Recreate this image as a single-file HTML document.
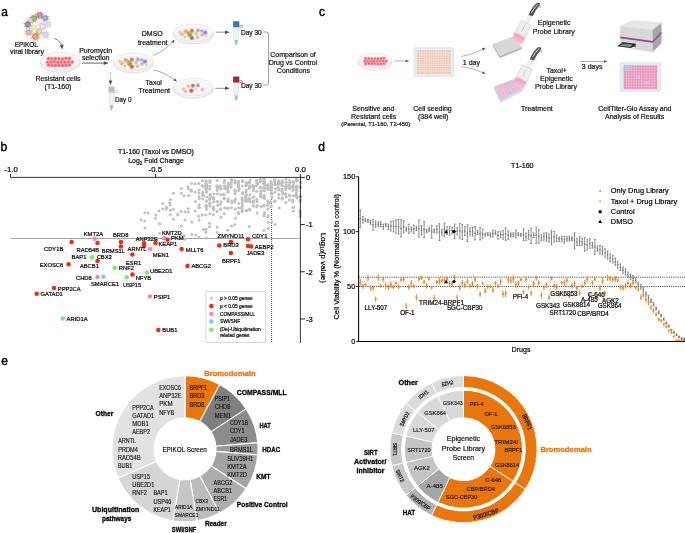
<!DOCTYPE html>
<html><head><meta charset="utf-8"><title>Figure</title>
<style>html,body{margin:0;padding:0;background:#fff;}svg{display:block;}text{font-family:"Liberation Sans",sans-serif;}</style></head>
<body>
<div style="width:685px;height:533px;will-change:transform;transform:translateZ(0)">
<svg width="685" height="533" viewBox="0 0 685 533" font-family="Liberation Sans, sans-serif">
<rect width="685" height="533" fill="#fff"/>
<defs><marker id="ah" viewBox="0 0 10 10" refX="8" refY="5" markerUnits="userSpaceOnUse" markerWidth="5.4" markerHeight="4.6" orient="auto-start-reverse"><path d="M0,1 L10,5 L0,9 z" fill="#4a4a4a"/></marker><marker id="ah2" viewBox="0 0 10 10" refX="8" refY="5" markerUnits="userSpaceOnUse" markerWidth="4.2" markerHeight="3.4" orient="auto-start-reverse"><path d="M0,1 L10,5 L0,9 z" fill="#555"/></marker></defs>
<text x="1.2" y="15.8" font-size="12" text-anchor="start" font-weight="normal" fill="#000" stroke="#000" stroke-width="0.4">a</text>
<text x="0.6" y="151.2" font-size="12" text-anchor="start" font-weight="normal" fill="#000" stroke="#000" stroke-width="0.4">b</text>
<text x="319.0" y="15.8" font-size="12" text-anchor="start" font-weight="normal" fill="#000" stroke="#000" stroke-width="0.4">c</text>
<text x="318.2" y="151.2" font-size="12" text-anchor="start" font-weight="normal" fill="#000" stroke="#000" stroke-width="0.4">d</text>
<text x="1.2" y="365.2" font-size="12" text-anchor="start" font-weight="normal" fill="#000" stroke="#000" stroke-width="0.4">e</text>
<path d="M42.0,16.1L44.2,16.8M40.8,17.6L41.8,19.6M38.9,17.8L38.2,20.0M37.4,16.6L35.4,17.6M37.2,14.7L35.0,14.0M38.4,13.2L37.4,11.2M40.3,13.0L41.0,10.8M41.8,14.2L43.8,13.2" stroke="#de6c8f" stroke-width="0.7" fill="none"/>
<circle cx="39.6" cy="15.4" r="3.1" fill="#de6c8f"/><circle cx="39.6" cy="15.4" r="1.71" fill="#e890aa"/>
<path d="M36.5,19.4L38.9,20.1M35.2,20.9L36.4,23.1M33.2,21.1L32.5,23.5M31.7,19.8L29.5,21.0M31.5,17.8L29.1,17.1M32.8,16.3L31.6,14.1M34.8,16.1L35.5,13.7M36.3,17.4L38.5,16.2" stroke="#86a95a" stroke-width="0.7" fill="none"/>
<circle cx="34" cy="18.6" r="3.3" fill="#86a95a"/><circle cx="34" cy="18.6" r="1.81" fill="#9cbc72"/>
<path d="M47.5,18.9L49.6,19.6M46.3,20.3L47.4,22.3M44.5,20.5L43.8,22.6M43.1,19.3L41.1,20.4M42.9,17.5L40.8,16.8M44.1,16.1L43.0,14.1M45.9,15.9L46.6,13.8M47.3,17.1L49.3,16.0" stroke="#8a9fd0" stroke-width="0.7" fill="none"/>
<circle cx="45.2" cy="18.2" r="3.0" fill="#8a9fd0"/><circle cx="45.2" cy="18.2" r="1.65" fill="#a9b9df"/>
<path d="M31.5,20.9L33.4,21.5M30.5,22.1L31.4,23.9M28.9,22.3L28.3,24.2M27.7,21.3L25.9,22.2M27.5,19.7L25.6,19.1M28.5,18.5L27.6,16.7M30.1,18.3L30.7,16.4M31.3,19.3L33.1,18.4" stroke="#ecc9d2" stroke-width="0.7" fill="none"/>
<circle cx="29.5" cy="20.3" r="2.6" fill="#ecc9d2"/><circle cx="29.5" cy="20.3" r="1.43" fill="#f3dde3"/>
<path d="M41.0,21.9L42.9,22.5M40.0,23.1L40.9,24.9M38.4,23.3L37.8,25.2M37.2,22.3L35.4,23.2M37.0,20.7L35.1,20.1M38.0,19.5L37.1,17.7M39.6,19.3L40.2,17.4M40.8,20.3L42.6,19.4" stroke="#e6eef6" stroke-width="0.7" fill="none"/>
<circle cx="39" cy="21.3" r="2.6" fill="#e6eef6"/><circle cx="39" cy="21.3" r="1.43" fill="#f4f7fa"/>
<path d="M30.1,25.3L32.2,26.0M28.9,26.7L30.0,28.7M27.1,26.9L26.4,29.0M25.7,25.7L23.7,26.8M25.5,23.9L23.4,23.2M26.7,22.5L25.6,20.5M28.5,22.3L29.2,20.2M29.9,23.5L31.9,22.4" stroke="#8c878a" stroke-width="0.7" fill="none"/>
<circle cx="27.8" cy="24.6" r="3.0" fill="#8c878a"/><circle cx="27.8" cy="24.6" r="1.65" fill="#a39ea1"/>
<path d="M50.5,24.7L52.5,25.3M49.4,26.0L50.4,27.8M47.7,26.1L47.1,28.1M46.4,25.0L44.6,26.0M46.3,23.3L44.3,22.7M47.4,22.0L46.4,20.2M49.1,21.9L49.7,19.9M50.4,23.0L52.2,22.0" stroke="#d4d4d4" stroke-width="0.7" fill="none"/>
<circle cx="48.4" cy="24" r="2.8" fill="#d4d4d4"/><circle cx="48.4" cy="24" r="1.54" fill="#e3e3e3"/>
<path d="M36.2,28.2L38.4,28.9M35.0,29.7L36.0,31.7M33.1,29.9L32.4,32.1M31.6,28.7L29.6,29.7M31.4,26.8L29.2,26.1M32.6,25.3L31.6,23.3M34.5,25.1L35.2,22.9M36.0,26.3L38.0,25.3" stroke="#f1dfb1" stroke-width="0.7" fill="none"/>
<circle cx="33.8" cy="27.5" r="3.1" fill="#f1dfb1"/><circle cx="33.8" cy="27.5" r="1.71" fill="#f7ebcc"/>
<path d="M45.2,27.0L47.6,27.8M43.9,28.6L45.1,30.9M41.8,28.8L41.0,31.2M40.2,27.5L37.9,28.7M40.0,25.4L37.6,24.6M41.3,23.8L40.1,21.5M43.4,23.6L44.2,21.2M45.0,24.9L47.3,23.7" stroke="#f0c3d0" stroke-width="0.7" fill="none"/>
<circle cx="42.6" cy="26.2" r="3.4" fill="#f0c3d0"/><circle cx="42.6" cy="26.2" r="1.87" fill="#f8e1e8"/>
<path d="M30.9,33.0L33.0,33.7M29.7,34.4L30.8,36.4M27.9,34.6L27.2,36.7M26.5,33.4L24.5,34.5M26.3,31.6L24.2,30.9M27.5,30.2L26.4,28.2M29.3,30.0L30.0,27.9M30.7,31.2L32.7,30.1" stroke="#c3ada3" stroke-width="0.7" fill="none"/>
<circle cx="28.6" cy="32.3" r="3.0" fill="#c3ada3"/><circle cx="28.6" cy="32.3" r="1.65" fill="#d5c4bc"/>
<path d="M41.4,32.2L43.6,32.9M40.2,33.7L41.2,35.7M38.3,33.9L37.6,36.1M36.8,32.7L34.8,33.7M36.6,30.8L34.4,30.1M37.8,29.3L36.8,27.3M39.7,29.1L40.4,26.9M41.2,30.3L43.2,29.3" stroke="#bfd8a6" stroke-width="0.7" fill="none"/>
<circle cx="39" cy="31.5" r="3.1" fill="#bfd8a6"/><circle cx="39" cy="31.5" r="1.71" fill="#d3e5c1"/>
<path d="M47.9,35.4L50.1,36.1M46.7,36.9L47.7,38.9M44.8,37.1L44.1,39.3M43.3,35.9L41.3,36.9M43.1,34.0L40.9,33.3M44.3,32.5L43.3,30.5M46.2,32.3L46.9,30.1M47.7,33.5L49.7,32.5" stroke="#cfcfcf" stroke-width="0.7" fill="none"/>
<circle cx="45.5" cy="34.7" r="3.1" fill="#cfcfcf"/><circle cx="45.5" cy="34.7" r="1.71" fill="#dfdfdf"/>
<path d="M38.2,37.1L40.6,37.9M36.9,38.7L38.1,41.0M34.8,38.9L34.0,41.3M33.2,37.6L30.9,38.8M33.0,35.5L30.6,34.7M34.3,33.9L33.1,31.6M36.4,33.7L37.2,31.3M38.0,35.0L40.3,33.8" stroke="#e98d4f" stroke-width="0.7" fill="none"/>
<circle cx="35.6" cy="36.3" r="3.4" fill="#e98d4f"/><circle cx="35.6" cy="36.3" r="1.87" fill="#f0a775"/>
<text x="26.3" y="47.0" font-size="7" text-anchor="middle" font-weight="normal" fill="#111" textLength="23.0" lengthAdjust="spacingAndGlyphs"  stroke="#111" stroke-width="0.2">EPIKOL</text>
<text x="27.0" y="54.2" font-size="7" text-anchor="middle" font-weight="normal" fill="#111"  stroke="#111" stroke-width="0.2">viral library</text>
<path d="M54.3,38.4 Q61.2,40.5 62.2,48.4" fill="none" stroke="#555" stroke-width="0.75" marker-end="url(#ah)"/>
<ellipse cx="60.4" cy="62.9" rx="20" ry="9.4" fill="#f4f4f4" stroke="#c9c9c9" stroke-width="0.55"/>
<ellipse cx="60.4" cy="61.1" rx="19.8" ry="8.600000000000001" fill="#fbfbfb" stroke="#d2d2d2" stroke-width="0.5"/>
<ellipse cx="60.4" cy="62.3" rx="18.0" ry="6.9" fill="#f7f7f7" stroke="#e2e2e2" stroke-width="0.4"/>
<circle cx="48.5" cy="58.6" r="2.0" fill="#f0909a"/><circle cx="48.5" cy="58.6" r="0.90" fill="#e15c68"/>
<circle cx="52.0" cy="58.8" r="2.0" fill="#f0909a"/><circle cx="52.0" cy="58.8" r="0.90" fill="#e15c68"/>
<circle cx="55.5" cy="58.7" r="2.0" fill="#f0909a"/><circle cx="55.5" cy="58.7" r="0.90" fill="#e15c68"/>
<circle cx="59.0" cy="58.8" r="2.0" fill="#f0909a"/><circle cx="59.0" cy="58.8" r="0.90" fill="#e15c68"/>
<circle cx="62.5" cy="58.9" r="2.0" fill="#f0909a"/><circle cx="62.5" cy="58.9" r="0.90" fill="#e15c68"/>
<circle cx="66.0" cy="58.5" r="2.0" fill="#f0909a"/><circle cx="66.0" cy="58.5" r="0.90" fill="#e15c68"/>
<circle cx="69.5" cy="58.5" r="2.0" fill="#f0909a"/><circle cx="69.5" cy="58.5" r="0.90" fill="#e15c68"/>
<circle cx="47.5" cy="62.2" r="2.0" fill="#f0909a"/><circle cx="47.5" cy="62.2" r="0.90" fill="#e15c68"/>
<circle cx="51.0" cy="61.9" r="2.0" fill="#f0909a"/><circle cx="51.0" cy="61.9" r="0.90" fill="#e15c68"/>
<circle cx="54.5" cy="61.8" r="2.0" fill="#f0909a"/><circle cx="54.5" cy="61.8" r="0.90" fill="#e15c68"/>
<circle cx="58.0" cy="62.3" r="2.0" fill="#f0909a"/><circle cx="58.0" cy="62.3" r="0.90" fill="#e15c68"/>
<circle cx="61.5" cy="62.0" r="2.0" fill="#f0909a"/><circle cx="61.5" cy="62.0" r="0.90" fill="#e15c68"/>
<circle cx="65.0" cy="62.2" r="2.0" fill="#f0909a"/><circle cx="65.0" cy="62.2" r="0.90" fill="#e15c68"/>
<circle cx="68.5" cy="62.0" r="2.0" fill="#f0909a"/><circle cx="68.5" cy="62.0" r="0.90" fill="#e15c68"/>
<circle cx="72.0" cy="62.1" r="2.0" fill="#f0909a"/><circle cx="72.0" cy="62.1" r="0.90" fill="#e15c68"/>
<circle cx="48.5" cy="65.0" r="2.0" fill="#f0909a"/><circle cx="48.5" cy="65.0" r="0.90" fill="#e15c68"/>
<circle cx="52.0" cy="65.3" r="2.0" fill="#f0909a"/><circle cx="52.0" cy="65.3" r="0.90" fill="#e15c68"/>
<circle cx="55.5" cy="65.4" r="2.0" fill="#f0909a"/><circle cx="55.5" cy="65.4" r="0.90" fill="#e15c68"/>
<circle cx="59.0" cy="65.2" r="2.0" fill="#f0909a"/><circle cx="59.0" cy="65.2" r="0.90" fill="#e15c68"/>
<circle cx="62.5" cy="65.4" r="2.0" fill="#f0909a"/><circle cx="62.5" cy="65.4" r="0.90" fill="#e15c68"/>
<circle cx="66.0" cy="65.3" r="2.0" fill="#f0909a"/><circle cx="66.0" cy="65.3" r="0.90" fill="#e15c68"/>
<circle cx="69.5" cy="65.0" r="2.0" fill="#f0909a"/><circle cx="69.5" cy="65.0" r="0.90" fill="#e15c68"/>
<text x="58.0" y="81.0" font-size="7" text-anchor="middle" font-weight="normal" fill="#111"  stroke="#111" stroke-width="0.2">Resistant cells</text>
<text x="58.0" y="88.7" font-size="7" text-anchor="middle" font-weight="normal" fill="#111"  stroke="#111" stroke-width="0.2">(T1-160)</text>
<text x="95.7" y="52.9" font-size="7" text-anchor="middle" font-weight="normal" fill="#111"  stroke="#111" stroke-width="0.2">Puromycin</text>
<text x="95.7" y="60.4" font-size="7" text-anchor="middle" font-weight="normal" fill="#111"  stroke="#111" stroke-width="0.2">selection</text>
<path d="M82.1,63.1H107.4" fill="none" stroke="#555" stroke-width="0.9" marker-end="url(#ah)"/>
<ellipse cx="133.3" cy="63.5" rx="20" ry="9.4" fill="#f4f4f4" stroke="#c9c9c9" stroke-width="0.55"/>
<ellipse cx="133.3" cy="61.7" rx="19.8" ry="8.600000000000001" fill="#fbfbfb" stroke="#d2d2d2" stroke-width="0.5"/>
<ellipse cx="133.3" cy="62.9" rx="18.0" ry="6.9" fill="#f7f7f7" stroke="#e2e2e2" stroke-width="0.4"/>
<circle cx="121.8" cy="63.2" r="2.2" fill="#f3c9a3"/><circle cx="121.8" cy="63.2" r="0.99" fill="#eaa56e"/>
<circle cx="125.8" cy="60.2" r="2.4" fill="#f2bb7c"/><circle cx="125.8" cy="60.2" r="1.08" fill="#e99a45"/>
<circle cx="129.8" cy="63.7" r="2.6" fill="#84c972"/><circle cx="129.8" cy="63.7" r="1.17" fill="#52a94a"/>
<circle cx="131.8" cy="59.6" r="2.2" fill="#c4a085"/><circle cx="131.8" cy="59.6" r="0.99" fill="#a07a5e"/>
<circle cx="136.1" cy="62.6" r="2.4" fill="#f1d9a8"/><circle cx="136.1" cy="62.6" r="1.08" fill="#e8bf74"/>
<circle cx="137.8" cy="59.4" r="2.1" fill="#c9b6e6"/><circle cx="137.8" cy="59.4" r="0.95" fill="#a88fd4"/>
<circle cx="142.1" cy="63.8" r="2.2" fill="#f3c6d4"/><circle cx="142.1" cy="63.8" r="0.99" fill="#e79ab2"/>
<circle cx="145.1" cy="61.6" r="2.4" fill="#b7a0e0"/><circle cx="145.1" cy="61.6" r="1.08" fill="#8f72c8"/>
<circle cx="124.8" cy="65.8" r="2.0" fill="#f4dcc0"/><circle cx="124.8" cy="65.8" r="0.90" fill="#e9bd8c"/>
<circle cx="131.8" cy="66.8" r="2.2" fill="#ea7681"/><circle cx="131.8" cy="66.8" r="0.99" fill="#d24b59"/>
<circle cx="137.5" cy="66.2" r="2.0" fill="#cfe3a6"/><circle cx="137.5" cy="66.2" r="0.90" fill="#a9c96c"/>
<circle cx="119.8" cy="61.2" r="1.7" fill="#f4ccd0"/><circle cx="119.8" cy="61.2" r="0.77" fill="#e9a3ab"/>
<circle cx="141.8" cy="59.8" r="1.9" fill="#b5c7ee"/><circle cx="141.8" cy="59.8" r="0.85" fill="#869fdc"/>
<circle cx="146.3" cy="64.8" r="1.7" fill="#f4dfc2"/><circle cx="146.3" cy="64.8" r="0.77" fill="#e8c18e"/>
<circle cx="128.3" cy="61.8" r="1.9" fill="#f0a35a"/><circle cx="128.3" cy="61.8" r="0.85" fill="#e2822c"/>
<path d="M110.5,72V84.2" fill="none" stroke="#777" stroke-width="0.7" stroke-dasharray="1.1 1.1" marker-end="url(#ah)"/>
<path d="M109.0,91.9h5v9.5l-1.7,8.5q-0.8,1.2 -1.6,0l-1.7,-8.5z" fill="#f1f1f1" stroke="#c9c9c9" stroke-width="0.4"/>
<path d="M109.95,105.2h3.1l-0.9,4.4q-0.65,1 -1.3,0z" fill="#78c3ea"/>
<path d="M114.60000000000001,90.60000000000001h2.6q0.9,0 0.9,0.9t-0.9,0.9h-2.6" fill="none" stroke="#bdbdbd" stroke-width="0.6"/>
<rect x="108.4" y="86.4" width="6.2" height="6" rx="0.6" fill="#bdbdbd"/>
<text x="114.9" y="101.6" font-size="7" text-anchor="start" font-weight="normal" fill="#111" textLength="16.6" lengthAdjust="spacingAndGlyphs"  stroke="#111" stroke-width="0.2">Day 0</text>
<path d="M153.5,55.4 Q166,50 174.2,40.2" fill="none" stroke="#666" stroke-width="0.55" marker-end="url(#ah2)"/>
<path d="M153.5,69.8 Q166,73 176.3,81" fill="none" stroke="#666" stroke-width="0.55" marker-end="url(#ah2)"/>
<text x="152.3" y="36.2" font-size="7" text-anchor="middle" font-weight="normal" fill="#111"  stroke="#111" stroke-width="0.2">DMSO</text>
<text x="152.7" y="45.0" font-size="7" text-anchor="middle" font-weight="normal" fill="#111"  stroke="#111" stroke-width="0.2">treatment</text>
<text x="153.7" y="84.7" font-size="7" text-anchor="middle" font-weight="normal" fill="#111"  stroke="#111" stroke-width="0.2">Taxol</text>
<text x="154.2" y="92.9" font-size="7" text-anchor="middle" font-weight="normal" fill="#111"  stroke="#111" stroke-width="0.2">Treatment</text>
<ellipse cx="193.4" cy="34.6" rx="20" ry="9.4" fill="#f4f4f4" stroke="#c9c9c9" stroke-width="0.55"/>
<ellipse cx="193.4" cy="32.800000000000004" rx="19.8" ry="8.600000000000001" fill="#fbfbfb" stroke="#d2d2d2" stroke-width="0.5"/>
<ellipse cx="193.4" cy="34.0" rx="18.0" ry="6.9" fill="#f7f7f7" stroke="#e2e2e2" stroke-width="0.4"/>
<circle cx="181.9" cy="34.3" r="2.2" fill="#f3c9a3"/><circle cx="181.9" cy="34.3" r="0.99" fill="#eaa56e"/>
<circle cx="185.9" cy="31.3" r="2.4" fill="#f2bb7c"/><circle cx="185.9" cy="31.3" r="1.08" fill="#e99a45"/>
<circle cx="189.9" cy="34.8" r="2.6" fill="#84c972"/><circle cx="189.9" cy="34.8" r="1.17" fill="#52a94a"/>
<circle cx="191.9" cy="30.7" r="2.2" fill="#c4a085"/><circle cx="191.9" cy="30.7" r="0.99" fill="#a07a5e"/>
<circle cx="196.2" cy="33.7" r="2.4" fill="#f1d9a8"/><circle cx="196.2" cy="33.7" r="1.08" fill="#e8bf74"/>
<circle cx="197.9" cy="30.5" r="2.1" fill="#c9b6e6"/><circle cx="197.9" cy="30.5" r="0.95" fill="#a88fd4"/>
<circle cx="202.2" cy="34.9" r="2.2" fill="#f3c6d4"/><circle cx="202.2" cy="34.9" r="0.99" fill="#e79ab2"/>
<circle cx="205.2" cy="32.7" r="2.4" fill="#b7a0e0"/><circle cx="205.2" cy="32.7" r="1.08" fill="#8f72c8"/>
<circle cx="184.9" cy="36.9" r="2.0" fill="#f4dcc0"/><circle cx="184.9" cy="36.9" r="0.90" fill="#e9bd8c"/>
<circle cx="191.9" cy="37.9" r="2.2" fill="#ea7681"/><circle cx="191.9" cy="37.9" r="0.99" fill="#d24b59"/>
<circle cx="197.6" cy="37.3" r="2.0" fill="#cfe3a6"/><circle cx="197.6" cy="37.3" r="0.90" fill="#a9c96c"/>
<circle cx="179.9" cy="32.3" r="1.7" fill="#f4ccd0"/><circle cx="179.9" cy="32.3" r="0.77" fill="#e9a3ab"/>
<circle cx="201.9" cy="30.9" r="1.9" fill="#b5c7ee"/><circle cx="201.9" cy="30.9" r="0.85" fill="#869fdc"/>
<circle cx="206.4" cy="35.9" r="1.7" fill="#f4dfc2"/><circle cx="206.4" cy="35.9" r="0.77" fill="#e8c18e"/>
<circle cx="188.4" cy="32.9" r="1.9" fill="#f0a35a"/><circle cx="188.4" cy="32.9" r="0.85" fill="#e2822c"/>
<ellipse cx="193.4" cy="88.9" rx="20" ry="9.4" fill="#f4f4f4" stroke="#c9c9c9" stroke-width="0.55"/>
<ellipse cx="193.4" cy="87.1" rx="19.8" ry="8.600000000000001" fill="#fbfbfb" stroke="#d2d2d2" stroke-width="0.5"/>
<ellipse cx="193.4" cy="88.3" rx="18.0" ry="6.9" fill="#f7f7f7" stroke="#e2e2e2" stroke-width="0.4"/>
<circle cx="183.4" cy="89.3" r="2.0" fill="#f2d3a3"/><circle cx="183.4" cy="89.3" r="0.90" fill="#e8b870"/>
<circle cx="188.4" cy="86.3" r="1.9" fill="#f3c9a8"/><circle cx="188.4" cy="86.3" r="0.85" fill="#e9a675"/>
<circle cx="192.9" cy="85.6" r="2.2" fill="#c39a7e"/><circle cx="192.9" cy="85.6" r="0.99" fill="#a0745a"/>
<circle cx="197.9" cy="85.4" r="2.1" fill="#c3aee0"/><circle cx="197.9" cy="85.4" r="0.95" fill="#a68fd0"/>
<circle cx="191.4" cy="90.8" r="2.2" fill="#e8707b"/><circle cx="191.4" cy="90.8" r="0.99" fill="#d34a57"/>
<circle cx="202.4" cy="89.6" r="2.2" fill="#f3c6d3"/><circle cx="202.4" cy="89.6" r="0.99" fill="#e7a0b5"/>
<circle cx="185.4" cy="91.4" r="1.7" fill="#f1c2c6"/><circle cx="185.4" cy="91.4" r="0.77" fill="#e59aa2"/>
<circle cx="195.9" cy="89.0" r="1.6" fill="#f5e3c4"/><circle cx="195.9" cy="89.0" r="0.72" fill="#ebca96"/>
<path d="M215.6,32.2H228.6" fill="none" stroke="#666" stroke-width="0.7" marker-end="url(#ah)"/>
<path d="M215.6,88.3H228.6" fill="none" stroke="#666" stroke-width="0.7" marker-end="url(#ah)"/>
<path d="M233.7,26.7h5v9.5l-1.7,8.5q-0.8,1.2 -1.6,0l-1.7,-8.5z" fill="#f1f1f1" stroke="#c9c9c9" stroke-width="0.4"/>
<path d="M234.65,40.0h3.1l-0.9,4.4q-0.65,1 -1.3,0z" fill="#78c3ea"/>
<path d="M239.29999999999998,25.4h2.6q0.9,0 0.9,0.9t-0.9,0.9h-2.6" fill="none" stroke="#3f72b8" stroke-width="0.6"/>
<rect x="233.1" y="21.2" width="6.2" height="6" rx="0.6" fill="#3f72b8"/>
<path d="M233.7,82.1h5v9.5l-1.7,8.5q-0.8,1.2 -1.6,0l-1.7,-8.5z" fill="#f1f1f1" stroke="#c9c9c9" stroke-width="0.4"/>
<path d="M234.65,95.39999999999999h3.1l-0.9,4.4q-0.65,1 -1.3,0z" fill="#78c3ea"/>
<path d="M239.29999999999998,80.8h2.6q0.9,0 0.9,0.9t-0.9,0.9h-2.6" fill="none" stroke="#9e2b33" stroke-width="0.6"/>
<rect x="233.1" y="76.6" width="6.2" height="6" rx="0.6" fill="#9e2b33"/>
<text x="240.9" y="34.6" font-size="7" text-anchor="start" font-weight="normal" fill="#111" textLength="20.9" lengthAdjust="spacingAndGlyphs"  stroke="#111" stroke-width="0.2">Day 30</text>
<text x="240.9" y="87.8" font-size="7" text-anchor="start" font-weight="normal" fill="#111" textLength="20.9" lengthAdjust="spacingAndGlyphs"  stroke="#111" stroke-width="0.2">Day 30</text>
<path d="M263.2,32H266.6q2,0 2,2V83q0,2 -2,2H263.2" fill="none" stroke="#555" stroke-width="0.6"/>
<text x="293.0" y="57.0" font-size="7" text-anchor="middle" font-weight="normal" fill="#111"  stroke="#111" stroke-width="0.2">Comparison of</text>
<text x="293.0" y="65.4" font-size="7" text-anchor="middle" font-weight="normal" fill="#111"  stroke="#111" stroke-width="0.2">Drug vs Control</text>
<text x="293.4" y="73.1" font-size="7" text-anchor="middle" font-weight="normal" fill="#111"  stroke="#111" stroke-width="0.2">Conditions</text>
<ellipse cx="375" cy="62.1" rx="17.1" ry="8.0" fill="#f4f4f4" stroke="#c9c9c9" stroke-width="0.55"/>
<ellipse cx="375" cy="60.300000000000004" rx="16.900000000000002" ry="7.2" fill="#fbfbfb" stroke="#d2d2d2" stroke-width="0.5"/>
<ellipse cx="375" cy="61.5" rx="15.100000000000001" ry="5.5" fill="#f7f7f7" stroke="#e2e2e2" stroke-width="0.4"/>
<circle cx="365.6" cy="58.6" r="1.75" fill="#f0909a"/><circle cx="365.6" cy="58.6" r="0.79" fill="#e15c68"/>
<circle cx="368.7" cy="58.7" r="1.75" fill="#f0909a"/><circle cx="368.7" cy="58.7" r="0.79" fill="#e15c68"/>
<circle cx="371.7" cy="58.7" r="1.75" fill="#f0909a"/><circle cx="371.7" cy="58.7" r="0.79" fill="#e15c68"/>
<circle cx="374.8" cy="58.8" r="1.75" fill="#f0909a"/><circle cx="374.8" cy="58.8" r="0.79" fill="#e15c68"/>
<circle cx="377.9" cy="58.7" r="1.75" fill="#f0909a"/><circle cx="377.9" cy="58.7" r="0.79" fill="#e15c68"/>
<circle cx="380.9" cy="58.8" r="1.75" fill="#f0909a"/><circle cx="380.9" cy="58.8" r="0.79" fill="#e15c68"/>
<circle cx="384.0" cy="58.3" r="1.75" fill="#f0909a"/><circle cx="384.0" cy="58.3" r="0.79" fill="#e15c68"/>
<circle cx="364.8" cy="61.2" r="1.75" fill="#f0909a"/><circle cx="364.8" cy="61.2" r="0.79" fill="#e15c68"/>
<circle cx="367.8" cy="61.5" r="1.75" fill="#f0909a"/><circle cx="367.8" cy="61.5" r="0.79" fill="#e15c68"/>
<circle cx="370.9" cy="61.3" r="1.75" fill="#f0909a"/><circle cx="370.9" cy="61.3" r="0.79" fill="#e15c68"/>
<circle cx="374.0" cy="61.4" r="1.75" fill="#f0909a"/><circle cx="374.0" cy="61.4" r="0.79" fill="#e15c68"/>
<circle cx="377.0" cy="61.0" r="1.75" fill="#f0909a"/><circle cx="377.0" cy="61.0" r="0.79" fill="#e15c68"/>
<circle cx="380.1" cy="61.2" r="1.75" fill="#f0909a"/><circle cx="380.1" cy="61.2" r="0.79" fill="#e15c68"/>
<circle cx="383.2" cy="61.0" r="1.75" fill="#f0909a"/><circle cx="383.2" cy="61.0" r="0.79" fill="#e15c68"/>
<circle cx="386.2" cy="61.2" r="1.75" fill="#f0909a"/><circle cx="386.2" cy="61.2" r="0.79" fill="#e15c68"/>
<circle cx="365.6" cy="63.9" r="1.75" fill="#f0909a"/><circle cx="365.6" cy="63.9" r="0.79" fill="#e15c68"/>
<circle cx="368.7" cy="63.6" r="1.75" fill="#f0909a"/><circle cx="368.7" cy="63.6" r="0.79" fill="#e15c68"/>
<circle cx="371.7" cy="63.7" r="1.75" fill="#f0909a"/><circle cx="371.7" cy="63.7" r="0.79" fill="#e15c68"/>
<circle cx="374.8" cy="63.7" r="1.75" fill="#f0909a"/><circle cx="374.8" cy="63.7" r="0.79" fill="#e15c68"/>
<circle cx="377.9" cy="64.1" r="1.75" fill="#f0909a"/><circle cx="377.9" cy="64.1" r="0.79" fill="#e15c68"/>
<circle cx="380.9" cy="64.0" r="1.75" fill="#f0909a"/><circle cx="380.9" cy="64.0" r="0.79" fill="#e15c68"/>
<circle cx="384.0" cy="63.7" r="1.75" fill="#f0909a"/><circle cx="384.0" cy="63.7" r="0.79" fill="#e15c68"/>
<path d="M394.7,61H408.4" fill="none" stroke="#666" stroke-width="0.55" marker-end="url(#ah2)"/>
<rect x="414" y="47.7" width="39.5" height="28.9" rx="0.8" fill="#e3edf3" stroke="#cbd9e2" stroke-width="0.5"/>
<rect x="417.2" y="50.4" width="33.2" height="23.2" fill="#efb9a0"/>
<path d="M419.57,50.4V73.6M421.94,50.4V73.6M424.31,50.4V73.6M426.69,50.4V73.6M429.06,50.4V73.6M431.43,50.4V73.6M433.80,50.4V73.6M436.17,50.4V73.6M438.54,50.4V73.6M440.91,50.4V73.6M443.29,50.4V73.6M445.66,50.4V73.6M448.03,50.4V73.6M417.2,52.72H450.4M417.2,55.04H450.4M417.2,57.36H450.4M417.2,59.68H450.4M417.2,62.00H450.4M417.2,64.32H450.4M417.2,66.64H450.4M417.2,68.96H450.4M417.2,71.28H450.4" stroke="#f8e6dc" stroke-width="0.9" fill="none"/>
<text x="462.8" y="64.8" font-size="7" text-anchor="start" font-weight="normal" fill="#111"  stroke="#111" stroke-width="0.2">1 day</text>
<path d="M461.5,56.5 Q474,54.5 485,48.2" fill="none" stroke="#666" stroke-width="0.5" marker-end="url(#ah2)"/>
<path d="M461.5,66.5 Q474,68 485,73.6" fill="none" stroke="#666" stroke-width="0.5" marker-end="url(#ah2)"/>
<text x="373.3" y="111.0" font-size="7" text-anchor="middle" font-weight="normal" fill="#111"  stroke="#111" stroke-width="0.2">Sensitive and</text>
<text x="373.6" y="119.4" font-size="7" text-anchor="middle" font-weight="normal" fill="#111"  stroke="#111" stroke-width="0.2">Resistant cells</text>
<text x="375.8" y="126.4" font-size="5.85" text-anchor="middle" font-weight="normal" fill="#111"  stroke="#111" stroke-width="0.2">(Parental, T1-160, T2-450)</text>
<text x="432.5" y="111.0" font-size="7" text-anchor="middle" font-weight="normal" fill="#111"  stroke="#111" stroke-width="0.2">Cell seeding</text>
<text x="433.2" y="119.4" font-size="7" text-anchor="middle" font-weight="normal" fill="#111"  stroke="#111" stroke-width="0.2">(384 well)</text>
<defs><linearGradient id="pk" x1="0.7" y1="0" x2="0.3" y2="1"><stop offset="0" stop-color="#f191b5"/><stop offset="1" stop-color="#f9d0df"/></linearGradient></defs>
<path d="M492.9,44.3L499.8,56.1L522,46.9v2.2L499.8,58.300000000000004L492.9,46.5z" fill="#b9b9b9"/>
<path d="M492.9,44.3L512.6,37L522,46.9L499.8,56.1z" fill="#dedede" stroke="#b9b9b9" stroke-width="0.4"/>
<path d="M495.4,43.4L502.6,55.0M497.8,42.5L505.4,53.8M500.3,41.6L508.1,52.6M502.8,40.6L510.9,51.5M505.2,39.7L513.7,50.4M507.7,38.8L516.5,49.2M510.1,37.9L519.2,48.0M494.0,46.3L514.2,38.6M495.2,48.2L515.7,40.3M496.4,50.2L517.3,42.0M497.5,52.2L518.9,43.6M498.6,54.1L520.4,45.2" stroke="#c4c4c4" stroke-width="0.35" fill="none"/>
<g transform="translate(0,0)">
<path d="M514.5,32.2L525.6,37.9L521.8,44.8L512.2,39.6z" fill="url(#pk)"/>
<path d="M525.0,22.4L527.9,23.9L532.3,14.9L529.5,13.5z" fill="#f3f3f3" stroke="#c6c6c6" stroke-width="0.4"/>
<path d="M521.4,20.5L530.9,25.5L525.5,37.6L515.3,31.6z" fill="#efefef" stroke="#c2c2c2" stroke-width="0.5" stroke-linejoin="round"/>
<path d="M524.6,25.2L521.9,31.4" stroke="#c4c4c4" stroke-width="0.9" stroke-linecap="round"/>
<path d="M528.7,14.9Q530.2,9.5 535.6,3.9Q537.6,2.2 539.4,2.9Q540.6,3.8 539.6,5.6Q536,9.2 532.7,16.2z" fill="#565656"/>
<path d="M531.6,12.4Q534,8 537.6,4.6" stroke="#e6e6e6" stroke-width="0.9" fill="none" stroke-linecap="round"/>
<path d="M539.2,4.8Q541,6 540.2,7.6" stroke="#777" stroke-width="0.7" fill="none" stroke-linecap="round"/>
</g>
<path d="M493.9,86.7L500.4,100.5L522.8,89v2.2L500.4,102.7L493.9,88.9z" fill="#c3e1e8"/>
<path d="M493.9,86.7L514.5,78.8L522.8,89L500.4,100.5z" fill="#e8c6e0" stroke="#c3e1e8" stroke-width="0.4"/>
<path d="M496.5,85.7L503.2,99.1M499.0,84.7L506.0,97.6M501.6,83.7L508.8,96.2M504.2,82.8L511.6,94.8M506.8,81.8L514.4,93.3M509.4,80.8L517.2,91.9M511.9,79.8L520.0,90.4M495.0,89.0L515.9,80.5M496.1,91.3L517.3,82.2M497.1,93.6L518.6,83.9M498.2,95.9L520.0,85.6M499.3,98.2L521.4,87.3" stroke="#d9a9cc" stroke-width="0.35" fill="none"/>
<g transform="translate(1.2,44.3)">
<path d="M514.5,32.2L525.6,37.9L521.8,44.8L512.2,39.6z" fill="url(#pk)"/>
<path d="M525.0,22.4L527.9,23.9L532.3,14.9L529.5,13.5z" fill="#f3f3f3" stroke="#c6c6c6" stroke-width="0.4"/>
<path d="M521.4,20.5L530.9,25.5L525.5,37.6L515.3,31.6z" fill="#efefef" stroke="#c2c2c2" stroke-width="0.5" stroke-linejoin="round"/>
<path d="M524.6,25.2L521.9,31.4" stroke="#c4c4c4" stroke-width="0.9" stroke-linecap="round"/>
<path d="M528.7,14.9Q530.2,9.5 535.6,3.9Q537.6,2.2 539.4,2.9Q540.6,3.8 539.6,5.6Q536,9.2 532.7,16.2z" fill="#565656"/>
<path d="M531.6,12.4Q534,8 537.6,4.6" stroke="#e6e6e6" stroke-width="0.9" fill="none" stroke-linecap="round"/>
<path d="M539.2,4.8Q541,6 540.2,7.6" stroke="#777" stroke-width="0.7" fill="none" stroke-linecap="round"/>
</g>
<text x="554.1" y="25.4" font-size="7" text-anchor="middle" font-weight="normal" fill="#111"  stroke="#111" stroke-width="0.2">Epigenetic</text>
<text x="553.8" y="34.4" font-size="7" text-anchor="middle" font-weight="normal" fill="#111"  stroke="#111" stroke-width="0.2">Probe Library</text>
<text x="556.6" y="72.7" font-size="7" text-anchor="middle" font-weight="normal" fill="#111"  stroke="#111" stroke-width="0.2">Taxol+</text>
<text x="556.4" y="80.8" font-size="7" text-anchor="middle" font-weight="normal" fill="#111"  stroke="#111" stroke-width="0.2">Epigenetic</text>
<text x="555.9" y="89.2" font-size="7" text-anchor="middle" font-weight="normal" fill="#111"  stroke="#111" stroke-width="0.2">Probe Library</text>
<text x="536.9" y="110.7" font-size="7" text-anchor="middle" font-weight="normal" fill="#111"  stroke="#111" stroke-width="0.2">Treatment</text>
<path d="M579.7,61.4H606.8" fill="none" stroke="#666" stroke-width="0.55" marker-end="url(#ah2)"/>
<text x="581.8" y="68.8" font-size="7" text-anchor="start" font-weight="normal" fill="#111"  stroke="#111" stroke-width="0.2">3 days</text>
<path d="M620.2,26.2L632.8,20.5L661.5,22.7L652.6,30z" fill="#e6e6e6" stroke="#d0d0d0" stroke-width="0.3"/>
<path d="M620.2,26.3L652.6,30.1V52.2L620.2,46.8z" fill="#d8d8d8"/>
<path d="M652.6,30.1L661.5,22.8V42.9L652.6,52.2z" fill="#a6a6a6"/>
<path d="M620.2,36.4L652.6,40.9L661.5,31.6V33.4L652.6,42.8L620.2,38.2z" fill="#9b3f98"/>
<path d="M621.9,42L635.7,43.7V46.9L621.9,45.6z" fill="#3b3b3b"/>
<path d="M617,46.2L621.9,42.9L635.4,43.9L631.2,48.1z" fill="#222"/>
<path d="M619.6,46L622.6,43.8L632.8,44.6L630.4,47z" fill="#8b8b8b"/>
<rect x="620.2" y="62.7" width="40.2" height="28.7" rx="0.8" fill="#e3edf3" stroke="#cbd9e2" stroke-width="0.5"/>
<rect x="623.7" y="65.4" width="33.4" height="23.6" fill="#e78db6"/>
<rect x="623.7" y="65.4" width="7.7" height="5.3" fill="#9cc8ea"/>
<rect x="631.4" y="76" width="2.6" height="2.6" fill="#a9a0e0"/><rect x="634" y="78.6" width="2.6" height="2.6" fill="#a9a0e0"/><rect x="636.5" y="76" width="2.6" height="2.6" fill="#9cc8ea"/><rect x="644.3" y="81.2" width="5.2" height="2.6" fill="#a7c4e6"/>
<path d="M626.27,65.4V89M628.84,65.4V89M631.41,65.4V89M633.98,65.4V89M636.55,65.4V89M639.12,65.4V89M641.68,65.4V89M644.25,65.4V89M646.82,65.4V89M649.39,65.4V89M651.96,65.4V89M654.53,65.4V89M623.7,68.02H657.1M623.7,70.64H657.1M623.7,73.27H657.1M623.7,75.89H657.1M623.7,78.51H657.1M623.7,81.13H657.1M623.7,83.76H657.1M623.7,86.38H657.1" stroke="#f3c3d8" stroke-width="0.7" fill="none"/>
<text x="634.9" y="110.7" font-size="7" text-anchor="middle" font-weight="normal" fill="#111"  stroke="#111" stroke-width="0.2">CellTiter-Glo Assay and</text>
<text x="634.6" y="119.1" font-size="7" text-anchor="middle" font-weight="normal" fill="#111"  stroke="#111" stroke-width="0.2">Analysis of Results</text>
<text x="156.0" y="153.8" font-size="6.9" text-anchor="middle" font-weight="normal" fill="#000"  stroke="#000" stroke-width="0.2">T1-160 (Taxol vs DMSO)</text>
<text x="156" y="163.2" font-size="6.9" text-anchor="middle" fill="#000" stroke="#000" stroke-width="0.2">Log<tspan font-size="4.6" dy="1.5">2</tspan><tspan dy="-1.5"> Fold Change</tspan></text>
<line x1="10.5" x2="300.4" y1="238.5" y2="238.5" stroke="#2a2a2a" stroke-width="0.85" stroke-dasharray="1 1"/>
<line x1="271.6" x2="271.6" y1="199" y2="342" stroke="#2a2a2a" stroke-width="0.85" stroke-dasharray="1 1"/>
<circle cx="281.9" cy="198.7" r="1.5" fill="#c0c0c0"/>
<circle cx="198.7" cy="216.3" r="1.5" fill="#c0c0c0"/>
<circle cx="228.5" cy="185.8" r="1.5" fill="#c0c0c0"/>
<circle cx="253.9" cy="186.8" r="1.5" fill="#c0c0c0"/>
<circle cx="272.0" cy="193.5" r="1.5" fill="#c0c0c0"/>
<circle cx="289.2" cy="184.8" r="1.5" fill="#c0c0c0"/>
<circle cx="213.0" cy="208.6" r="1.5" fill="#c0c0c0"/>
<circle cx="231.8" cy="181.0" r="1.5" fill="#c0c0c0"/>
<circle cx="235.0" cy="180.5" r="1.5" fill="#c0c0c0"/>
<circle cx="282.3" cy="197.8" r="1.5" fill="#c0c0c0"/>
<circle cx="270.9" cy="181.5" r="1.5" fill="#c0c0c0"/>
<circle cx="299.8" cy="210.5" r="1.5" fill="#c0c0c0"/>
<circle cx="278.5" cy="184.3" r="1.5" fill="#c0c0c0"/>
<circle cx="260.2" cy="186.9" r="1.5" fill="#c0c0c0"/>
<circle cx="296.4" cy="179.3" r="1.5" fill="#c0c0c0"/>
<circle cx="235.3" cy="208.9" r="1.5" fill="#c0c0c0"/>
<circle cx="279.1" cy="207.9" r="1.5" fill="#c0c0c0"/>
<circle cx="202.2" cy="215.1" r="1.5" fill="#c0c0c0"/>
<circle cx="292.9" cy="207.6" r="1.5" fill="#c0c0c0"/>
<circle cx="231.2" cy="184.3" r="1.5" fill="#c0c0c0"/>
<circle cx="272.0" cy="187.6" r="1.5" fill="#c0c0c0"/>
<circle cx="253.2" cy="202.3" r="1.5" fill="#c0c0c0"/>
<circle cx="242.0" cy="208.4" r="1.5" fill="#c0c0c0"/>
<circle cx="292.7" cy="201.9" r="1.5" fill="#c0c0c0"/>
<circle cx="275.6" cy="184.5" r="1.5" fill="#c0c0c0"/>
<circle cx="264.1" cy="181.8" r="1.5" fill="#c0c0c0"/>
<circle cx="217.5" cy="194.1" r="1.5" fill="#c0c0c0"/>
<circle cx="285.9" cy="202.4" r="1.5" fill="#c0c0c0"/>
<circle cx="249.5" cy="183.0" r="1.5" fill="#c0c0c0"/>
<circle cx="242.1" cy="211.3" r="1.5" fill="#c0c0c0"/>
<circle cx="264.2" cy="183.6" r="1.5" fill="#c0c0c0"/>
<circle cx="235.6" cy="199.0" r="1.5" fill="#c0c0c0"/>
<circle cx="289.4" cy="187.8" r="1.5" fill="#c0c0c0"/>
<circle cx="278.9" cy="184.3" r="1.5" fill="#c0c0c0"/>
<circle cx="271.8" cy="184.2" r="1.5" fill="#c0c0c0"/>
<circle cx="271.2" cy="205.9" r="1.5" fill="#c0c0c0"/>
<circle cx="296.2" cy="194.2" r="1.5" fill="#c0c0c0"/>
<circle cx="256.7" cy="206.9" r="1.5" fill="#c0c0c0"/>
<circle cx="268.2" cy="222.2" r="1.5" fill="#c0c0c0"/>
<circle cx="235.4" cy="191.5" r="1.5" fill="#c0c0c0"/>
<circle cx="275.5" cy="189.1" r="1.5" fill="#c0c0c0"/>
<circle cx="289.8" cy="196.1" r="1.5" fill="#c0c0c0"/>
<circle cx="300.0" cy="201.2" r="1.5" fill="#c0c0c0"/>
<circle cx="286.4" cy="186.0" r="1.5" fill="#c0c0c0"/>
<circle cx="250.0" cy="194.7" r="1.5" fill="#c0c0c0"/>
<circle cx="217.2" cy="227.1" r="1.5" fill="#c0c0c0"/>
<circle cx="268.1" cy="208.7" r="1.5" fill="#c0c0c0"/>
<circle cx="264.5" cy="195.5" r="1.5" fill="#c0c0c0"/>
<circle cx="202.8" cy="199.1" r="1.5" fill="#c0c0c0"/>
<circle cx="224.6" cy="207.7" r="1.5" fill="#c0c0c0"/>
<circle cx="263.9" cy="206.0" r="1.5" fill="#c0c0c0"/>
<circle cx="205.9" cy="189.1" r="1.5" fill="#c0c0c0"/>
<circle cx="231.1" cy="187.2" r="1.5" fill="#c0c0c0"/>
<circle cx="246.0" cy="195.4" r="1.5" fill="#c0c0c0"/>
<circle cx="261.0" cy="194.6" r="1.5" fill="#c0c0c0"/>
<circle cx="198.9" cy="192.9" r="1.5" fill="#c0c0c0"/>
<circle cx="228.4" cy="191.8" r="1.5" fill="#c0c0c0"/>
<circle cx="238.3" cy="186.7" r="1.5" fill="#c0c0c0"/>
<circle cx="264.0" cy="205.0" r="1.5" fill="#c0c0c0"/>
<circle cx="261.1" cy="197.0" r="1.5" fill="#c0c0c0"/>
<circle cx="213.6" cy="208.3" r="1.5" fill="#c0c0c0"/>
<circle cx="260.4" cy="196.5" r="1.5" fill="#c0c0c0"/>
<circle cx="289.6" cy="188.8" r="1.5" fill="#c0c0c0"/>
<circle cx="263.8" cy="179.1" r="1.5" fill="#c0c0c0"/>
<circle cx="264.1" cy="197.7" r="1.5" fill="#c0c0c0"/>
<circle cx="224.1" cy="198.3" r="1.5" fill="#c0c0c0"/>
<circle cx="300.1" cy="214.5" r="1.5" fill="#c0c0c0"/>
<circle cx="300.3" cy="212.2" r="1.5" fill="#c0c0c0"/>
<circle cx="249.3" cy="182.1" r="1.5" fill="#c0c0c0"/>
<circle cx="264.5" cy="198.5" r="1.5" fill="#c0c0c0"/>
<circle cx="281.7" cy="185.2" r="1.5" fill="#c0c0c0"/>
<circle cx="253.7" cy="188.2" r="1.5" fill="#c0c0c0"/>
<circle cx="250.0" cy="201.8" r="1.5" fill="#c0c0c0"/>
<circle cx="213.3" cy="214.7" r="1.5" fill="#c0c0c0"/>
<circle cx="253.4" cy="190.4" r="1.5" fill="#c0c0c0"/>
<circle cx="245.9" cy="198.8" r="1.5" fill="#c0c0c0"/>
<circle cx="274.8" cy="184.2" r="1.5" fill="#c0c0c0"/>
<circle cx="246.6" cy="183.1" r="1.5" fill="#c0c0c0"/>
<circle cx="289.9" cy="182.4" r="1.5" fill="#c0c0c0"/>
<circle cx="242.6" cy="180.4" r="1.5" fill="#c0c0c0"/>
<circle cx="271.9" cy="197.2" r="1.5" fill="#c0c0c0"/>
<circle cx="238.7" cy="203.4" r="1.5" fill="#c0c0c0"/>
<circle cx="286.3" cy="184.8" r="1.5" fill="#c0c0c0"/>
<circle cx="206.7" cy="206.0" r="1.5" fill="#c0c0c0"/>
<circle cx="271.8" cy="196.8" r="1.5" fill="#c0c0c0"/>
<circle cx="292.7" cy="185.8" r="1.5" fill="#c0c0c0"/>
<circle cx="249.5" cy="209.5" r="1.5" fill="#c0c0c0"/>
<circle cx="217.2" cy="190.6" r="1.5" fill="#c0c0c0"/>
<circle cx="282.7" cy="193.3" r="1.5" fill="#c0c0c0"/>
<circle cx="282.5" cy="185.7" r="1.5" fill="#c0c0c0"/>
<circle cx="203.2" cy="195.5" r="1.5" fill="#c0c0c0"/>
<circle cx="206.4" cy="192.2" r="1.5" fill="#c0c0c0"/>
<circle cx="297.0" cy="190.5" r="1.5" fill="#c0c0c0"/>
<circle cx="213.1" cy="198.4" r="1.5" fill="#c0c0c0"/>
<circle cx="216.7" cy="186.0" r="1.5" fill="#c0c0c0"/>
<circle cx="238.4" cy="185.0" r="1.5" fill="#c0c0c0"/>
<circle cx="205.9" cy="229.2" r="1.5" fill="#c0c0c0"/>
<circle cx="242.3" cy="200.0" r="1.5" fill="#c0c0c0"/>
<circle cx="206.5" cy="184.3" r="1.5" fill="#c0c0c0"/>
<circle cx="217.6" cy="205.3" r="1.5" fill="#c0c0c0"/>
<circle cx="257.1" cy="201.7" r="1.5" fill="#c0c0c0"/>
<circle cx="228.3" cy="201.4" r="1.5" fill="#c0c0c0"/>
<circle cx="252.9" cy="185.5" r="1.5" fill="#c0c0c0"/>
<circle cx="271.0" cy="206.7" r="1.5" fill="#c0c0c0"/>
<circle cx="267.9" cy="189.5" r="1.5" fill="#c0c0c0"/>
<circle cx="224.8" cy="187.7" r="1.5" fill="#c0c0c0"/>
<circle cx="249.2" cy="200.6" r="1.5" fill="#c0c0c0"/>
<circle cx="214.1" cy="193.9" r="1.5" fill="#c0c0c0"/>
<circle cx="268.0" cy="184.7" r="1.5" fill="#c0c0c0"/>
<circle cx="234.9" cy="193.5" r="1.5" fill="#c0c0c0"/>
<circle cx="235.1" cy="199.8" r="1.5" fill="#c0c0c0"/>
<circle cx="213.9" cy="199.0" r="1.5" fill="#c0c0c0"/>
<circle cx="264.6" cy="187.8" r="1.5" fill="#c0c0c0"/>
<circle cx="253.4" cy="205.7" r="1.5" fill="#c0c0c0"/>
<circle cx="256.5" cy="180.6" r="1.5" fill="#c0c0c0"/>
<circle cx="206.6" cy="209.3" r="1.5" fill="#c0c0c0"/>
<circle cx="199.0" cy="204.8" r="1.5" fill="#c0c0c0"/>
<circle cx="289.5" cy="194.9" r="1.5" fill="#c0c0c0"/>
<circle cx="209.5" cy="203.2" r="1.5" fill="#c0c0c0"/>
<circle cx="217.6" cy="201.7" r="1.5" fill="#c0c0c0"/>
<circle cx="216.9" cy="201.8" r="1.5" fill="#c0c0c0"/>
<circle cx="227.7" cy="192.3" r="1.5" fill="#c0c0c0"/>
<circle cx="249.2" cy="198.0" r="1.5" fill="#c0c0c0"/>
<circle cx="293.4" cy="211.0" r="1.5" fill="#c0c0c0"/>
<circle cx="249.3" cy="226.4" r="1.5" fill="#c0c0c0"/>
<circle cx="268.1" cy="188.2" r="1.5" fill="#c0c0c0"/>
<circle cx="202.5" cy="180.7" r="1.5" fill="#c0c0c0"/>
<circle cx="300.2" cy="186.7" r="1.5" fill="#c0c0c0"/>
<circle cx="231.9" cy="203.0" r="1.5" fill="#c0c0c0"/>
<circle cx="271.1" cy="182.8" r="1.5" fill="#c0c0c0"/>
<circle cx="224.3" cy="213.8" r="1.5" fill="#c0c0c0"/>
<circle cx="205.8" cy="185.4" r="1.5" fill="#c0c0c0"/>
<circle cx="257.5" cy="205.4" r="1.5" fill="#c0c0c0"/>
<circle cx="252.8" cy="185.9" r="1.5" fill="#c0c0c0"/>
<circle cx="289.5" cy="186.3" r="1.5" fill="#c0c0c0"/>
<circle cx="296.3" cy="192.9" r="1.5" fill="#c0c0c0"/>
<circle cx="238.4" cy="186.1" r="1.5" fill="#c0c0c0"/>
<circle cx="227.5" cy="201.1" r="1.5" fill="#c0c0c0"/>
<circle cx="203.2" cy="195.2" r="1.5" fill="#c0c0c0"/>
<circle cx="217.2" cy="211.6" r="1.5" fill="#c0c0c0"/>
<circle cx="209.7" cy="180.9" r="1.5" fill="#c0c0c0"/>
<circle cx="261.0" cy="193.9" r="1.5" fill="#c0c0c0"/>
<circle cx="256.8" cy="182.5" r="1.5" fill="#c0c0c0"/>
<circle cx="264.0" cy="187.4" r="1.5" fill="#c0c0c0"/>
<circle cx="282.1" cy="180.7" r="1.5" fill="#c0c0c0"/>
<circle cx="210.2" cy="195.5" r="1.5" fill="#c0c0c0"/>
<circle cx="281.8" cy="183.4" r="1.5" fill="#c0c0c0"/>
<circle cx="223.9" cy="194.2" r="1.5" fill="#c0c0c0"/>
<circle cx="242.0" cy="197.7" r="1.5" fill="#c0c0c0"/>
<circle cx="270.9" cy="187.2" r="1.5" fill="#c0c0c0"/>
<circle cx="220.3" cy="185.9" r="1.5" fill="#c0c0c0"/>
<circle cx="242.3" cy="205.6" r="1.5" fill="#c0c0c0"/>
<circle cx="275.1" cy="224.5" r="1.5" fill="#c0c0c0"/>
<circle cx="246.5" cy="199.5" r="1.5" fill="#c0c0c0"/>
<circle cx="267.6" cy="216.7" r="1.5" fill="#c0c0c0"/>
<circle cx="282.2" cy="188.9" r="1.5" fill="#c0c0c0"/>
<circle cx="213.2" cy="197.4" r="1.5" fill="#c0c0c0"/>
<circle cx="267.6" cy="184.9" r="1.5" fill="#c0c0c0"/>
<circle cx="205.7" cy="182.8" r="1.5" fill="#c0c0c0"/>
<circle cx="234.9" cy="224.5" r="1.5" fill="#c0c0c0"/>
<circle cx="235.5" cy="218.3" r="1.5" fill="#c0c0c0"/>
<circle cx="209.9" cy="182.5" r="1.5" fill="#c0c0c0"/>
<circle cx="217.6" cy="187.9" r="1.5" fill="#c0c0c0"/>
<circle cx="231.5" cy="207.7" r="1.5" fill="#c0c0c0"/>
<circle cx="246.4" cy="194.8" r="1.5" fill="#c0c0c0"/>
<circle cx="282.2" cy="190.7" r="1.5" fill="#c0c0c0"/>
<circle cx="206.4" cy="187.8" r="1.5" fill="#c0c0c0"/>
<circle cx="250.2" cy="180.0" r="1.5" fill="#c0c0c0"/>
<circle cx="238.5" cy="184.0" r="1.5" fill="#c0c0c0"/>
<circle cx="256.8" cy="199.4" r="1.5" fill="#c0c0c0"/>
<circle cx="274.8" cy="180.1" r="1.5" fill="#c0c0c0"/>
<circle cx="300.8" cy="196.6" r="1.5" fill="#c0c0c0"/>
<circle cx="285.5" cy="194.8" r="1.5" fill="#c0c0c0"/>
<circle cx="285.9" cy="193.7" r="1.5" fill="#c0c0c0"/>
<circle cx="202.9" cy="186.6" r="1.5" fill="#c0c0c0"/>
<circle cx="292.8" cy="187.1" r="1.5" fill="#c0c0c0"/>
<circle cx="282.7" cy="194.0" r="1.5" fill="#c0c0c0"/>
<circle cx="264.5" cy="212.7" r="1.5" fill="#c0c0c0"/>
<circle cx="238.5" cy="213.6" r="1.5" fill="#c0c0c0"/>
<circle cx="238.6" cy="181.2" r="1.5" fill="#c0c0c0"/>
<circle cx="202.6" cy="192.0" r="1.5" fill="#c0c0c0"/>
<circle cx="300.6" cy="196.2" r="1.5" fill="#c0c0c0"/>
<circle cx="282.5" cy="198.2" r="1.5" fill="#c0c0c0"/>
<circle cx="253.1" cy="206.1" r="1.5" fill="#c0c0c0"/>
<circle cx="210.0" cy="206.1" r="1.5" fill="#c0c0c0"/>
<circle cx="278.9" cy="190.1" r="1.5" fill="#c0c0c0"/>
<circle cx="231.9" cy="200.8" r="1.5" fill="#c0c0c0"/>
<circle cx="206.6" cy="190.7" r="1.5" fill="#c0c0c0"/>
<circle cx="268.2" cy="228.6" r="1.5" fill="#c0c0c0"/>
<circle cx="275.2" cy="192.1" r="1.5" fill="#c0c0c0"/>
<circle cx="224.9" cy="186.0" r="1.5" fill="#c0c0c0"/>
<circle cx="256.8" cy="180.6" r="1.5" fill="#c0c0c0"/>
<circle cx="217.3" cy="180.5" r="1.5" fill="#c0c0c0"/>
<circle cx="210.1" cy="203.6" r="1.5" fill="#c0c0c0"/>
<circle cx="257.4" cy="184.5" r="1.5" fill="#c0c0c0"/>
<circle cx="220.5" cy="208.9" r="1.5" fill="#c0c0c0"/>
<circle cx="263.9" cy="215.7" r="1.5" fill="#c0c0c0"/>
<circle cx="206.5" cy="237.9" r="1.5" fill="#c0c0c0"/>
<circle cx="242.4" cy="200.4" r="1.5" fill="#c0c0c0"/>
<circle cx="253.1" cy="197.5" r="1.5" fill="#c0c0c0"/>
<circle cx="261.1" cy="191.0" r="1.5" fill="#c0c0c0"/>
<circle cx="220.8" cy="194.6" r="1.5" fill="#c0c0c0"/>
<circle cx="260.2" cy="181.4" r="1.5" fill="#c0c0c0"/>
<circle cx="221.0" cy="217.3" r="1.5" fill="#c0c0c0"/>
<circle cx="206.3" cy="206.6" r="1.5" fill="#c0c0c0"/>
<circle cx="286.3" cy="197.1" r="1.5" fill="#c0c0c0"/>
<circle cx="264.7" cy="184.7" r="1.5" fill="#c0c0c0"/>
<circle cx="224.4" cy="198.7" r="1.5" fill="#c0c0c0"/>
<circle cx="220.4" cy="186.8" r="1.5" fill="#c0c0c0"/>
<circle cx="263.7" cy="188.2" r="1.5" fill="#c0c0c0"/>
<circle cx="279.0" cy="182.6" r="1.5" fill="#c0c0c0"/>
<circle cx="271.6" cy="222.0" r="1.5" fill="#c0c0c0"/>
<circle cx="296.3" cy="186.2" r="1.5" fill="#c0c0c0"/>
<circle cx="220.6" cy="187.9" r="1.5" fill="#c0c0c0"/>
<circle cx="245.6" cy="198.2" r="1.5" fill="#c0c0c0"/>
<circle cx="238.7" cy="207.9" r="1.5" fill="#c0c0c0"/>
<circle cx="267.8" cy="200.7" r="1.5" fill="#c0c0c0"/>
<circle cx="297.1" cy="186.0" r="1.5" fill="#c0c0c0"/>
<circle cx="274.8" cy="182.1" r="1.5" fill="#c0c0c0"/>
<circle cx="213.8" cy="209.8" r="1.5" fill="#c0c0c0"/>
<circle cx="293.0" cy="181.5" r="1.5" fill="#c0c0c0"/>
<circle cx="231.7" cy="225.9" r="1.5" fill="#c0c0c0"/>
<circle cx="231.4" cy="179.4" r="1.5" fill="#c0c0c0"/>
<circle cx="285.8" cy="185.8" r="1.5" fill="#c0c0c0"/>
<circle cx="224.6" cy="180.2" r="1.5" fill="#c0c0c0"/>
<circle cx="206.3" cy="181.0" r="1.5" fill="#c0c0c0"/>
<circle cx="300.4" cy="187.4" r="1.5" fill="#c0c0c0"/>
<circle cx="238.7" cy="190.6" r="1.5" fill="#c0c0c0"/>
<circle cx="281.7" cy="182.9" r="1.5" fill="#c0c0c0"/>
<circle cx="278.4" cy="181.6" r="1.5" fill="#c0c0c0"/>
<circle cx="246.0" cy="182.8" r="1.5" fill="#c0c0c0"/>
<circle cx="253.9" cy="196.7" r="1.5" fill="#c0c0c0"/>
<circle cx="246.1" cy="185.4" r="1.5" fill="#c0c0c0"/>
<circle cx="210.1" cy="194.3" r="1.5" fill="#c0c0c0"/>
<circle cx="261.0" cy="206.5" r="1.5" fill="#c0c0c0"/>
<circle cx="263.6" cy="183.4" r="1.5" fill="#c0c0c0"/>
<circle cx="278.6" cy="183.6" r="1.5" fill="#c0c0c0"/>
<circle cx="289.4" cy="200.1" r="1.5" fill="#c0c0c0"/>
<circle cx="300.0" cy="216.6" r="1.5" fill="#c0c0c0"/>
<circle cx="249.3" cy="188.2" r="1.5" fill="#c0c0c0"/>
<circle cx="205.9" cy="232.2" r="1.5" fill="#c0c0c0"/>
<circle cx="203.2" cy="229.5" r="1.5" fill="#c0c0c0"/>
<circle cx="261.1" cy="191.2" r="1.5" fill="#c0c0c0"/>
<circle cx="296.2" cy="189.9" r="1.5" fill="#c0c0c0"/>
<circle cx="221.1" cy="201.8" r="1.5" fill="#c0c0c0"/>
<circle cx="239.2" cy="188.9" r="1.5" fill="#c0c0c0"/>
<circle cx="271.0" cy="186.4" r="1.5" fill="#c0c0c0"/>
<circle cx="209.7" cy="199.0" r="1.5" fill="#c0c0c0"/>
<circle cx="249.8" cy="199.8" r="1.5" fill="#c0c0c0"/>
<circle cx="296.5" cy="180.4" r="1.5" fill="#c0c0c0"/>
<circle cx="257.2" cy="212.9" r="1.5" fill="#c0c0c0"/>
<circle cx="278.6" cy="183.2" r="1.5" fill="#c0c0c0"/>
<circle cx="249.2" cy="209.6" r="1.5" fill="#c0c0c0"/>
<circle cx="238.6" cy="182.4" r="1.5" fill="#c0c0c0"/>
<circle cx="246.3" cy="183.8" r="1.5" fill="#c0c0c0"/>
<circle cx="293.4" cy="195.8" r="1.5" fill="#c0c0c0"/>
<circle cx="297.3" cy="196.6" r="1.5" fill="#c0c0c0"/>
<circle cx="300.9" cy="182.6" r="1.5" fill="#c0c0c0"/>
<circle cx="209.8" cy="198.4" r="1.5" fill="#c0c0c0"/>
<circle cx="274.8" cy="201.5" r="1.5" fill="#c0c0c0"/>
<circle cx="257.3" cy="183.6" r="1.5" fill="#c0c0c0"/>
<circle cx="213.6" cy="201.8" r="1.5" fill="#c0c0c0"/>
<circle cx="220.7" cy="208.9" r="1.5" fill="#c0c0c0"/>
<circle cx="205.9" cy="205.6" r="1.5" fill="#c0c0c0"/>
<circle cx="296.5" cy="188.2" r="1.5" fill="#c0c0c0"/>
<circle cx="227.7" cy="189.6" r="1.5" fill="#c0c0c0"/>
<circle cx="264.6" cy="179.5" r="1.5" fill="#c0c0c0"/>
<circle cx="246.6" cy="200.8" r="1.5" fill="#c0c0c0"/>
<circle cx="217.4" cy="185.9" r="1.5" fill="#c0c0c0"/>
<circle cx="256.4" cy="185.4" r="1.5" fill="#c0c0c0"/>
<circle cx="206.7" cy="197.1" r="1.5" fill="#c0c0c0"/>
<circle cx="205.8" cy="215.0" r="1.5" fill="#c0c0c0"/>
<circle cx="296.3" cy="196.3" r="1.5" fill="#c0c0c0"/>
<circle cx="205.8" cy="185.1" r="1.5" fill="#c0c0c0"/>
<circle cx="246.3" cy="190.1" r="1.5" fill="#c0c0c0"/>
<circle cx="289.7" cy="180.4" r="1.5" fill="#c0c0c0"/>
<circle cx="285.5" cy="186.9" r="1.5" fill="#c0c0c0"/>
<circle cx="274.5" cy="180.0" r="1.5" fill="#c0c0c0"/>
<circle cx="278.7" cy="198.1" r="1.5" fill="#c0c0c0"/>
<circle cx="292.8" cy="190.5" r="1.5" fill="#c0c0c0"/>
<circle cx="228.5" cy="182.9" r="1.5" fill="#c0c0c0"/>
<circle cx="220.3" cy="204.2" r="1.5" fill="#c0c0c0"/>
<circle cx="242.6" cy="192.8" r="1.5" fill="#c0c0c0"/>
<circle cx="267.8" cy="185.1" r="1.5" fill="#c0c0c0"/>
<circle cx="271.4" cy="190.6" r="1.5" fill="#c0c0c0"/>
<circle cx="256.7" cy="191.3" r="1.5" fill="#c0c0c0"/>
<circle cx="249.8" cy="186.9" r="1.5" fill="#c0c0c0"/>
<circle cx="293.5" cy="207.2" r="1.5" fill="#c0c0c0"/>
<circle cx="285.7" cy="189.7" r="1.5" fill="#c0c0c0"/>
<circle cx="210.4" cy="180.8" r="1.5" fill="#c0c0c0"/>
<circle cx="228.1" cy="207.9" r="1.5" fill="#c0c0c0"/>
<circle cx="264.5" cy="190.8" r="1.5" fill="#c0c0c0"/>
<circle cx="234.8" cy="183.0" r="1.5" fill="#c0c0c0"/>
<circle cx="263.7" cy="197.3" r="1.5" fill="#c0c0c0"/>
<circle cx="300.3" cy="200.0" r="1.5" fill="#c0c0c0"/>
<circle cx="264.1" cy="182.1" r="1.5" fill="#c0c0c0"/>
<circle cx="234.8" cy="201.8" r="1.5" fill="#c0c0c0"/>
<circle cx="206.7" cy="186.2" r="1.5" fill="#c0c0c0"/>
<circle cx="217.1" cy="232.4" r="1.5" fill="#c0c0c0"/>
<circle cx="209.8" cy="199.6" r="1.5" fill="#c0c0c0"/>
<circle cx="209.9" cy="186.2" r="1.5" fill="#c0c0c0"/>
<circle cx="292.7" cy="199.9" r="1.5" fill="#c0c0c0"/>
<circle cx="278.2" cy="187.4" r="1.5" fill="#c0c0c0"/>
<circle cx="242.1" cy="202.8" r="1.5" fill="#c0c0c0"/>
<circle cx="253.5" cy="201.8" r="1.5" fill="#c0c0c0"/>
<circle cx="293.0" cy="188.7" r="1.5" fill="#c0c0c0"/>
<circle cx="281.8" cy="190.8" r="1.5" fill="#c0c0c0"/>
<circle cx="296.7" cy="181.0" r="1.5" fill="#c0c0c0"/>
<circle cx="246.1" cy="210.6" r="1.5" fill="#c0c0c0"/>
<circle cx="228.3" cy="198.7" r="1.5" fill="#c0c0c0"/>
<circle cx="227.6" cy="230.3" r="1.5" fill="#c0c0c0"/>
<circle cx="221.0" cy="188.9" r="1.5" fill="#c0c0c0"/>
<circle cx="209.5" cy="223.2" r="1.5" fill="#c0c0c0"/>
<circle cx="271.0" cy="189.9" r="1.5" fill="#c0c0c0"/>
<circle cx="260.1" cy="179.3" r="1.5" fill="#c0c0c0"/>
<circle cx="278.8" cy="194.6" r="1.5" fill="#c0c0c0"/>
<circle cx="250.2" cy="210.1" r="1.5" fill="#c0c0c0"/>
<circle cx="293.6" cy="182.6" r="1.5" fill="#c0c0c0"/>
<circle cx="213.4" cy="208.1" r="1.5" fill="#c0c0c0"/>
<circle cx="242.7" cy="193.7" r="1.5" fill="#c0c0c0"/>
<circle cx="278.9" cy="180.8" r="1.5" fill="#c0c0c0"/>
<circle cx="199.4" cy="207.5" r="1.5" fill="#c0c0c0"/>
<circle cx="267.7" cy="186.3" r="1.5" fill="#c0c0c0"/>
<circle cx="286.2" cy="187.8" r="1.5" fill="#c0c0c0"/>
<circle cx="253.6" cy="200.9" r="1.5" fill="#c0c0c0"/>
<circle cx="264.2" cy="183.2" r="1.5" fill="#c0c0c0"/>
<circle cx="199.4" cy="198.8" r="1.5" fill="#c0c0c0"/>
<circle cx="278.7" cy="182.5" r="1.5" fill="#c0c0c0"/>
<circle cx="249.3" cy="185.9" r="1.5" fill="#c0c0c0"/>
<circle cx="224.8" cy="188.8" r="1.5" fill="#c0c0c0"/>
<circle cx="267.5" cy="205.4" r="1.5" fill="#c0c0c0"/>
<circle cx="227.4" cy="208.2" r="1.5" fill="#c0c0c0"/>
<circle cx="245.9" cy="201.6" r="1.5" fill="#c0c0c0"/>
<circle cx="275.0" cy="200.7" r="1.5" fill="#c0c0c0"/>
<circle cx="270.9" cy="202.1" r="1.5" fill="#c0c0c0"/>
<circle cx="227.5" cy="188.4" r="1.5" fill="#c0c0c0"/>
<circle cx="203.0" cy="195.6" r="1.5" fill="#c0c0c0"/>
<circle cx="209.9" cy="213.7" r="1.5" fill="#c0c0c0"/>
<circle cx="252.8" cy="186.4" r="1.5" fill="#c0c0c0"/>
<circle cx="282.7" cy="182.4" r="1.5" fill="#c0c0c0"/>
<circle cx="264.6" cy="213.8" r="1.5" fill="#c0c0c0"/>
<circle cx="263.9" cy="230.5" r="1.5" fill="#c0c0c0"/>
<circle cx="206.1" cy="188.0" r="1.5" fill="#c0c0c0"/>
<circle cx="209.6" cy="188.9" r="1.5" fill="#c0c0c0"/>
<circle cx="199.0" cy="190.1" r="1.5" fill="#c0c0c0"/>
<circle cx="231.2" cy="183.0" r="1.5" fill="#c0c0c0"/>
<circle cx="297.2" cy="198.1" r="1.5" fill="#c0c0c0"/>
<circle cx="271.4" cy="184.0" r="1.5" fill="#c0c0c0"/>
<circle cx="241.9" cy="207.2" r="1.5" fill="#c0c0c0"/>
<circle cx="246.5" cy="183.7" r="1.5" fill="#c0c0c0"/>
<circle cx="268.2" cy="215.5" r="1.5" fill="#c0c0c0"/>
<circle cx="293.3" cy="184.6" r="1.5" fill="#c0c0c0"/>
<circle cx="268.3" cy="203.3" r="1.5" fill="#c0c0c0"/>
<circle cx="271.2" cy="193.3" r="1.5" fill="#c0c0c0"/>
<circle cx="224.6" cy="186.0" r="1.5" fill="#c0c0c0"/>
<circle cx="279.1" cy="188.9" r="1.5" fill="#c0c0c0"/>
<circle cx="238.4" cy="212.6" r="1.5" fill="#c0c0c0"/>
<circle cx="260.3" cy="188.1" r="1.5" fill="#c0c0c0"/>
<circle cx="202.3" cy="193.9" r="1.5" fill="#c0c0c0"/>
<circle cx="242.5" cy="181.4" r="1.5" fill="#c0c0c0"/>
<circle cx="297.2" cy="180.3" r="1.5" fill="#c0c0c0"/>
<circle cx="234.8" cy="189.8" r="1.5" fill="#c0c0c0"/>
<circle cx="202.1" cy="185.5" r="1.5" fill="#c0c0c0"/>
<circle cx="260.9" cy="180.3" r="1.5" fill="#c0c0c0"/>
<circle cx="246.6" cy="210.6" r="1.5" fill="#c0c0c0"/>
<circle cx="260.5" cy="194.0" r="1.5" fill="#c0c0c0"/>
<circle cx="246.5" cy="182.9" r="1.5" fill="#c0c0c0"/>
<circle cx="223.9" cy="195.0" r="1.5" fill="#c0c0c0"/>
<circle cx="268.1" cy="187.9" r="1.5" fill="#c0c0c0"/>
<circle cx="242.3" cy="186.1" r="1.5" fill="#c0c0c0"/>
<circle cx="286.1" cy="182.3" r="1.5" fill="#c0c0c0"/>
<circle cx="213.5" cy="207.1" r="1.5" fill="#c0c0c0"/>
<circle cx="209.4" cy="226.7" r="1.5" fill="#c0c0c0"/>
<circle cx="246.0" cy="192.1" r="1.5" fill="#c0c0c0"/>
<circle cx="206.5" cy="201.3" r="1.5" fill="#c0c0c0"/>
<circle cx="224.2" cy="182.4" r="1.5" fill="#c0c0c0"/>
<circle cx="292.9" cy="187.4" r="1.5" fill="#c0c0c0"/>
<circle cx="268.2" cy="189.6" r="1.5" fill="#c0c0c0"/>
<circle cx="235.5" cy="182.2" r="1.5" fill="#c0c0c0"/>
<circle cx="245.8" cy="185.6" r="1.5" fill="#c0c0c0"/>
<circle cx="227.7" cy="186.6" r="1.5" fill="#c0c0c0"/>
<circle cx="282.3" cy="199.0" r="1.5" fill="#c0c0c0"/>
<circle cx="286.0" cy="179.3" r="1.5" fill="#c0c0c0"/>
<circle cx="246.0" cy="200.2" r="1.5" fill="#c0c0c0"/>
<circle cx="242.1" cy="211.4" r="1.5" fill="#c0c0c0"/>
<circle cx="245.9" cy="196.3" r="1.5" fill="#c0c0c0"/>
<circle cx="260.7" cy="193.9" r="1.5" fill="#c0c0c0"/>
<circle cx="210.2" cy="197.1" r="1.5" fill="#c0c0c0"/>
<circle cx="293.3" cy="186.6" r="1.5" fill="#c0c0c0"/>
<circle cx="228.2" cy="184.2" r="1.5" fill="#c0c0c0"/>
<circle cx="162.6" cy="203.4" r="1.5" fill="#c0c0c0"/>
<circle cx="191.8" cy="222.1" r="1.5" fill="#c0c0c0"/>
<circle cx="159.6" cy="223.8" r="1.5" fill="#c0c0c0"/>
<circle cx="148.3" cy="213.1" r="1.5" fill="#c0c0c0"/>
<circle cx="181.4" cy="193.3" r="1.5" fill="#c0c0c0"/>
<circle cx="155.9" cy="215.1" r="1.5" fill="#c0c0c0"/>
<circle cx="170.5" cy="210.2" r="1.5" fill="#c0c0c0"/>
<circle cx="181.2" cy="226.1" r="1.5" fill="#c0c0c0"/>
<circle cx="198.8" cy="207.7" r="1.5" fill="#c0c0c0"/>
<circle cx="184.4" cy="235.8" r="1.5" fill="#c0c0c0"/>
<circle cx="170.2" cy="204.9" r="1.5" fill="#c0c0c0"/>
<circle cx="155.4" cy="218.4" r="1.5" fill="#c0c0c0"/>
<circle cx="181.3" cy="188.5" r="1.5" fill="#c0c0c0"/>
<circle cx="188.3" cy="212.1" r="1.5" fill="#c0c0c0"/>
<circle cx="177.8" cy="213.9" r="1.5" fill="#c0c0c0"/>
<circle cx="195.5" cy="201.6" r="1.5" fill="#c0c0c0"/>
<circle cx="170.6" cy="199.4" r="1.5" fill="#c0c0c0"/>
<circle cx="162.9" cy="209.0" r="1.5" fill="#c0c0c0"/>
<circle cx="187.9" cy="186.6" r="1.5" fill="#c0c0c0"/>
<circle cx="141.1" cy="219.7" r="1.5" fill="#c0c0c0"/>
<circle cx="195.0" cy="183.8" r="1.5" fill="#c0c0c0"/>
<circle cx="166.2" cy="209.1" r="1.5" fill="#c0c0c0"/>
<circle cx="184.8" cy="239.2" r="1.5" fill="#c0c0c0"/>
<circle cx="195.8" cy="234.9" r="1.5" fill="#c0c0c0"/>
<circle cx="195.2" cy="191.9" r="1.5" fill="#c0c0c0"/>
<circle cx="173.3" cy="193.3" r="1.5" fill="#c0c0c0"/>
<circle cx="191.6" cy="183.4" r="1.5" fill="#c0c0c0"/>
<circle cx="159.6" cy="233.2" r="1.5" fill="#c0c0c0"/>
<circle cx="191.9" cy="234.4" r="1.5" fill="#c0c0c0"/>
<circle cx="144.8" cy="221.1" r="1.5" fill="#c0c0c0"/>
<circle cx="199.0" cy="196.5" r="1.5" fill="#c0c0c0"/>
<circle cx="191.3" cy="190.1" r="1.5" fill="#c0c0c0"/>
<circle cx="199.0" cy="236.9" r="1.5" fill="#c0c0c0"/>
<circle cx="166.7" cy="232.0" r="1.5" fill="#c0c0c0"/>
<circle cx="173.5" cy="209.3" r="1.5" fill="#c0c0c0"/>
<circle cx="185.0" cy="219.9" r="1.5" fill="#c0c0c0"/>
<circle cx="191.2" cy="191.2" r="1.5" fill="#c0c0c0"/>
<circle cx="173.4" cy="219.3" r="1.5" fill="#c0c0c0"/>
<circle cx="169.7" cy="202.7" r="1.5" fill="#c0c0c0"/>
<circle cx="199.1" cy="219.9" r="1.5" fill="#c0c0c0"/>
<circle cx="188.7" cy="195.4" r="1.5" fill="#c0c0c0"/>
<circle cx="144.8" cy="212.7" r="1.5" fill="#c0c0c0"/>
<circle cx="185.0" cy="211.8" r="1.5" fill="#c0c0c0"/>
<circle cx="145.0" cy="227.9" r="1.5" fill="#c0c0c0"/>
<circle cx="181.0" cy="211.5" r="1.5" fill="#c0c0c0"/>
<circle cx="188.5" cy="189.1" r="1.5" fill="#c0c0c0"/>
<circle cx="177.7" cy="215.0" r="1.5" fill="#c0c0c0"/>
<circle cx="166.5" cy="207.3" r="1.5" fill="#c0c0c0"/>
<circle cx="159.0" cy="210.9" r="1.5" fill="#c0c0c0"/>
<circle cx="170.2" cy="214.7" r="1.5" fill="#c0c0c0"/>
<circle cx="188.2" cy="208.7" r="1.5" fill="#c0c0c0"/>
<circle cx="184.1" cy="195.7" r="1.5" fill="#c0c0c0"/>
<circle cx="195.2" cy="210.9" r="1.5" fill="#c0c0c0"/>
<circle cx="198.8" cy="183.4" r="1.5" fill="#c0c0c0"/>
<circle cx="180.5" cy="234.7" r="1.5" fill="#c0c0c0"/>
<path d="M10.5,174 V177.4 H300.4 V343" fill="none" stroke="#000" stroke-width="0.8"/>
<line x1="155.6" x2="155.6" y1="174" y2="177.4" stroke="#000" stroke-width="0.85"/>
<line x1="300.4" x2="300.4" y1="174" y2="177.4" stroke="#000" stroke-width="0.85"/>
<line x1="300.4" x2="304.9" y1="177.4" y2="177.4" stroke="#000" stroke-width="0.85"/>
<line x1="300.4" x2="304.9" y1="224.6" y2="224.6" stroke="#000" stroke-width="0.85"/>
<line x1="300.4" x2="304.9" y1="271.8" y2="271.8" stroke="#000" stroke-width="0.85"/>
<line x1="300.4" x2="304.9" y1="319.0" y2="319.0" stroke="#000" stroke-width="0.85"/>
<text x="11.0" y="172.0" font-size="7.8" text-anchor="middle" font-weight="normal" fill="#000"  stroke="#000" stroke-width="0.2">-1.0</text>
<text x="155.3" y="172.0" font-size="7.8" text-anchor="middle" font-weight="normal" fill="#000"  stroke="#000" stroke-width="0.2">-0.5</text>
<text x="300.5" y="172.0" font-size="7.8" text-anchor="middle" font-weight="normal" fill="#000"  stroke="#000" stroke-width="0.2">0.0</text>
<text x="306.0" y="180.1" font-size="7.6" text-anchor="start" font-weight="normal" fill="#000"  stroke="#000" stroke-width="0.2">0</text>
<text x="306.0" y="227.3" font-size="7.6" text-anchor="start" font-weight="normal" fill="#000"  stroke="#000" stroke-width="0.2">-1</text>
<text x="306.0" y="274.5" font-size="7.6" text-anchor="start" font-weight="normal" fill="#000"  stroke="#000" stroke-width="0.2">-2</text>
<text x="306.0" y="321.7" font-size="7.6" text-anchor="start" font-weight="normal" fill="#000"  stroke="#000" stroke-width="0.2">-3</text>
<text transform="translate(321.3,257.8) rotate(90)" font-size="8" text-anchor="middle" fill="#000" stroke="#000" stroke-width="0.2">Log<tspan font-size="5.2" dy="1.6">10</tspan><tspan dy="-1.6">(p value)</tspan></text>
<circle cx="94.7" cy="238.8" r="2.25" fill="#f97fd2"/>
<circle cx="71.6" cy="242.1" r="2.25" fill="#f5290c"/>
<circle cx="97.5" cy="243.1" r="2.25" fill="#f5290c"/>
<circle cx="120.9" cy="242.1" r="2.25" fill="#f5290c"/>
<circle cx="120.9" cy="246.4" r="2.25" fill="#f5290c"/>
<circle cx="144" cy="243.3" r="2.25" fill="#f5290c"/>
<circle cx="144" cy="245.9" r="2.25" fill="#f5290c"/>
<circle cx="155.5" cy="243.1" r="2.25" fill="#f5290c"/>
<circle cx="150" cy="248.9" r="2.25" fill="#f97fd2"/>
<circle cx="132.4" cy="254.6" r="2.25" fill="#f5290c"/>
<circle cx="92" cy="257.2" r="2.25" fill="#7eea6c"/>
<circle cx="97.5" cy="260.9" r="2.25" fill="#f5290c"/>
<circle cx="68.6" cy="264.2" r="2.25" fill="#f5290c"/>
<circle cx="114.8" cy="267.7" r="2.25" fill="#7eea6c"/>
<circle cx="132.4" cy="274.5" r="2.25" fill="#f5290c"/>
<circle cx="147" cy="272.5" r="2.25" fill="#7eea6c"/>
<circle cx="97.5" cy="277" r="2.25" fill="#f97fd2"/>
<circle cx="103.3" cy="276.8" r="2.25" fill="#7fcdf7"/>
<circle cx="126.6" cy="277.3" r="2.25" fill="#7eea6c"/>
<circle cx="54" cy="288" r="2.25" fill="#f5290c"/>
<circle cx="36.7" cy="293.8" r="2.25" fill="#f5290c"/>
<circle cx="150" cy="296.4" r="2.25" fill="#f97fd2"/>
<circle cx="62.8" cy="318.5" r="2.25" fill="#7fcdf7"/>
<circle cx="158.3" cy="330" r="2.25" fill="#f5290c"/>
<circle cx="164.1" cy="238.3" r="2.25" fill="#f97fd2"/>
<circle cx="167.5" cy="239.7" r="2.25" fill="#f5290c"/>
<circle cx="181.6" cy="249" r="2.25" fill="#f5290c"/>
<circle cx="187.5" cy="266" r="2.25" fill="#f5290c"/>
<circle cx="230.9" cy="242" r="2.25" fill="#f5290c"/>
<circle cx="219.3" cy="245.4" r="2.25" fill="#f5290c"/>
<circle cx="230.9" cy="253" r="2.25" fill="#f5290c"/>
<circle cx="248" cy="239.2" r="2.25" fill="#f5290c"/>
<circle cx="248" cy="246" r="2.25" fill="#f5290c"/>
<circle cx="251.2" cy="246.5" r="2.25" fill="#f5290c"/>
<text x="83.7" y="235.8" font-size="5.8" text-anchor="start" font-weight="normal" fill="#000"  stroke="#000" stroke-width="0.2">KMT2A</text>
<text x="113.0" y="237.0" font-size="5.8" text-anchor="start" font-weight="normal" fill="#000"  stroke="#000" stroke-width="0.2">BRD8</text>
<text x="135.7" y="240.6" font-size="5.8" text-anchor="start" font-weight="normal" fill="#000"  stroke="#000" stroke-width="0.2">ANP32E</text>
<text x="44.0" y="251.1" font-size="5.8" text-anchor="start" font-weight="normal" fill="#000"  stroke="#000" stroke-width="0.2">CDY1B</text>
<text x="76.6" y="252.1" font-size="5.8" text-anchor="start" font-weight="normal" fill="#000"  stroke="#000" stroke-width="0.2">RAD54B</text>
<text x="101.8" y="252.6" font-size="5.8" text-anchor="start" font-weight="normal" fill="#000"  stroke="#000" stroke-width="0.2">BRMS1L</text>
<text x="127.6" y="251.1" font-size="5.8" text-anchor="start" font-weight="normal" fill="#000"  stroke="#000" stroke-width="0.2">ARNTL</text>
<text x="158.5" y="246.2" font-size="5.8" text-anchor="start" font-weight="normal" fill="#000"  stroke="#000" stroke-width="0.2">KEAP1</text>
<text x="152.8" y="256.8" font-size="5.8" text-anchor="start" font-weight="normal" fill="#000"  stroke="#000" stroke-width="0.2">MEN1</text>
<text x="71.6" y="259.4" font-size="5.8" text-anchor="start" font-weight="normal" fill="#000"  stroke="#000" stroke-width="0.2">BAP1</text>
<text x="96.7" y="258.9" font-size="5.8" text-anchor="start" font-weight="normal" fill="#000"  stroke="#000" stroke-width="0.2">CBX3</text>
<text x="39.7" y="267.2" font-size="5.8" text-anchor="start" font-weight="normal" fill="#000"  stroke="#000" stroke-width="0.2">EXOSC6</text>
<text x="79.9" y="268.2" font-size="5.8" text-anchor="start" font-weight="normal" fill="#000"  stroke="#000" stroke-width="0.2">ABCB1</text>
<text x="126.0" y="264.7" font-size="5.8" text-anchor="start" font-weight="normal" fill="#000"  stroke="#000" stroke-width="0.2">ESR1</text>
<text x="118.8" y="270.2" font-size="5.8" text-anchor="start" font-weight="normal" fill="#000"  stroke="#000" stroke-width="0.2">RNF2</text>
<text x="150.0" y="273.4" font-size="5.8" text-anchor="start" font-weight="normal" fill="#000"  stroke="#000" stroke-width="0.2">UBE2D1</text>
<text x="76.0" y="280.3" font-size="5.8" text-anchor="start" font-weight="normal" fill="#000"  stroke="#000" stroke-width="0.2">CHD8</text>
<text x="135.7" y="279.8" font-size="5.8" text-anchor="start" font-weight="normal" fill="#000"  stroke="#000" stroke-width="0.2">NFYB</text>
<text x="91.0" y="285.6" font-size="5.8" text-anchor="start" font-weight="normal" fill="#000"  stroke="#000" stroke-width="0.2">SMARCE1</text>
<text x="122.9" y="287.3" font-size="5.8" text-anchor="start" font-weight="normal" fill="#000"  stroke="#000" stroke-width="0.2">USP15</text>
<text x="57.8" y="290.6" font-size="5.8" text-anchor="start" font-weight="normal" fill="#000"  stroke="#000" stroke-width="0.2">PPP2CA</text>
<text x="40.5" y="296.1" font-size="5.8" text-anchor="start" font-weight="normal" fill="#000"  stroke="#000" stroke-width="0.2">GATAD1</text>
<text x="153.8" y="298.6" font-size="5.8" text-anchor="start" font-weight="normal" fill="#000"  stroke="#000" stroke-width="0.2">PSIP1</text>
<text x="66.6" y="320.7" font-size="5.8" text-anchor="start" font-weight="normal" fill="#000"  stroke="#000" stroke-width="0.2">ARID1A</text>
<text x="162.3" y="332.3" font-size="5.8" text-anchor="start" font-weight="normal" fill="#000"  stroke="#000" stroke-width="0.2">BUB1</text>
<text x="162.1" y="235.0" font-size="5.8" text-anchor="start" font-weight="normal" fill="#000"  stroke="#000" stroke-width="0.2">KMT2D</text>
<text x="171.1" y="239.7" font-size="5.8" text-anchor="start" font-weight="normal" fill="#000"  stroke="#000" stroke-width="0.2">PKM</text>
<text x="185.8" y="251.9" font-size="5.8" text-anchor="start" font-weight="normal" fill="#000"  stroke="#000" stroke-width="0.2">MLLT6</text>
<text x="191.4" y="268.2" font-size="5.8" text-anchor="start" font-weight="normal" fill="#000"  stroke="#000" stroke-width="0.2">ABCG2</text>
<text x="217.6" y="238.3" font-size="5.8" text-anchor="start" font-weight="normal" fill="#000"  stroke="#000" stroke-width="0.2">ZMYND11</text>
<text x="223.3" y="247.3" font-size="5.8" text-anchor="start" font-weight="normal" fill="#000"  stroke="#000" stroke-width="0.2">BRD3</text>
<text x="221.9" y="263.1" font-size="5.8" text-anchor="start" font-weight="normal" fill="#000"  stroke="#000" stroke-width="0.2">BRPF1</text>
<text x="252.0" y="237.8" font-size="5.8" text-anchor="start" font-weight="normal" fill="#000"  stroke="#000" stroke-width="0.2">CDY1</text>
<text x="254.8" y="248.8" font-size="5.8" text-anchor="start" font-weight="normal" fill="#000"  stroke="#000" stroke-width="0.2">AEBP2</text>
<text x="246.4" y="254.7" font-size="5.8" text-anchor="start" font-weight="normal" fill="#000"  stroke="#000" stroke-width="0.2">JADE3</text>
<rect x="205.9" y="291.4" width="59.6" height="51.2" fill="#fff" stroke="#cfcfcf" stroke-width="0.8"/>
<circle cx="211.4" cy="298.3" r="1.5" fill="#c3c3c3"/>
<text x="219.9" y="299.9" font-size="4.9" text-anchor="start" font-weight="normal" fill="#000"  stroke="#000" stroke-width="0.2">p &gt; 0.05 genes</text>
<circle cx="211.4" cy="306.1" r="2.3" fill="#f5290c"/>
<text x="219.9" y="307.7" font-size="4.9" text-anchor="start" font-weight="normal" fill="#000"  stroke="#000" stroke-width="0.2">p &lt; 0.05 genes</text>
<circle cx="211.4" cy="314" r="2.3" fill="#f97fd2"/>
<text x="219.9" y="315.6" font-size="4.9" text-anchor="start" font-weight="normal" fill="#000"  stroke="#000" stroke-width="0.2">COMPASS/MLL</text>
<circle cx="211.4" cy="321.6" r="2.3" fill="#7fcdf7"/>
<text x="219.9" y="323.2" font-size="4.9" text-anchor="start" font-weight="normal" fill="#000"  stroke="#000" stroke-width="0.2">SWI/SNF</text>
<circle cx="211.4" cy="329.8" r="2.3" fill="#7eea6c"/>
<text x="219.9" y="331.4" font-size="4.9" text-anchor="start" font-weight="normal" fill="#000"  stroke="#000" stroke-width="0.2">(De)-Ubiquitination</text>
<text x="219.9" y="337.0" font-size="4.9" text-anchor="start" font-weight="normal" fill="#000"  stroke="#000" stroke-width="0.2">related genes</text>
<text x="522.3" y="167.8" font-size="7.1" text-anchor="middle" font-weight="normal" fill="#000"  stroke="#000" stroke-width="0.2">T1-160</text>
<text transform="translate(338.6,256.8) rotate(-90)" font-size="7.4" text-anchor="middle" fill="#000" stroke="#000" stroke-width="0.2">Cell Viability % (Normalized to control)</text>
<text x="521.0" y="351.5" font-size="7.1" text-anchor="middle" font-weight="normal" fill="#000"  stroke="#000" stroke-width="0.2">Drugs</text>
<line x1="358.6" x2="685" y1="277.2" y2="277.2" stroke="#000" stroke-width="0.75" stroke-dasharray="1.1 1.1"/>
<line x1="358.6" x2="685" y1="286.5" y2="286.5" stroke="#000" stroke-width="0.75" stroke-dasharray="1.1 1.1"/>
<path d="M360.3,209.9V227.5M359.4,209.9h1.8M359.4,227.5h1.8" stroke="#767676" stroke-width="0.85" fill="none"/>
<rect x="359.6" y="218.0" width="1.4" height="1.4" fill="#767676"/>
<path d="M362.9,216.4V222.9M362.0,216.4h1.8M362.0,222.9h1.8" stroke="#767676" stroke-width="0.85" fill="none"/>
<rect x="362.2" y="219.0" width="1.4" height="1.4" fill="#767676"/>
<path d="M365.4,218.7V221.9M364.5,218.7h1.8M364.5,221.9h1.8" stroke="#767676" stroke-width="0.85" fill="none"/>
<rect x="364.7" y="219.6" width="1.4" height="1.4" fill="#767676"/>
<path d="M367.9,219.4V222.3M367.1,219.4h1.8M367.1,222.3h1.8" stroke="#767676" stroke-width="0.85" fill="none"/>
<rect x="367.2" y="220.2" width="1.4" height="1.4" fill="#767676"/>
<path d="M370.5,220.5V224.2M369.6,220.5h1.8M369.6,224.2h1.8" stroke="#767676" stroke-width="0.85" fill="none"/>
<rect x="369.8" y="221.6" width="1.4" height="1.4" fill="#767676"/>
<path d="M373.1,219.3V230.2M372.2,219.3h1.8M372.2,230.2h1.8" stroke="#767676" stroke-width="0.85" fill="none"/>
<rect x="372.4" y="224.0" width="1.4" height="1.4" fill="#767676"/>
<path d="M375.6,221.2V227.3M374.7,221.2h1.8M374.7,227.3h1.8" stroke="#767676" stroke-width="0.85" fill="none"/>
<rect x="374.9" y="223.6" width="1.4" height="1.4" fill="#767676"/>
<path d="M378.2,222.0V226.4M377.3,222.0h1.8M377.3,226.4h1.8" stroke="#767676" stroke-width="0.85" fill="none"/>
<rect x="377.5" y="223.5" width="1.4" height="1.4" fill="#767676"/>
<path d="M380.7,221.9V226.6M379.8,221.9h1.8M379.8,226.6h1.8" stroke="#767676" stroke-width="0.85" fill="none"/>
<rect x="380.0" y="223.6" width="1.4" height="1.4" fill="#767676"/>
<path d="M383.2,224.2V229.5M382.4,224.2h1.8M382.4,229.5h1.8" stroke="#767676" stroke-width="0.85" fill="none"/>
<rect x="382.6" y="226.1" width="1.4" height="1.4" fill="#767676"/>
<path d="M385.8,223.7V226.3M384.9,223.7h1.8M384.9,226.3h1.8" stroke="#767676" stroke-width="0.85" fill="none"/>
<rect x="385.1" y="224.3" width="1.4" height="1.4" fill="#767676"/>
<path d="M388.4,224.1V229.4M387.5,224.1h1.8M387.5,229.4h1.8" stroke="#767676" stroke-width="0.85" fill="none"/>
<rect x="387.7" y="226.1" width="1.4" height="1.4" fill="#767676"/>
<path d="M390.9,221.4V230.9M390.0,221.4h1.8M390.0,230.9h1.8" stroke="#767676" stroke-width="0.85" fill="none"/>
<rect x="390.2" y="225.4" width="1.4" height="1.4" fill="#767676"/>
<path d="M393.4,220.9V231.9M392.6,220.9h1.8M392.6,231.9h1.8" stroke="#767676" stroke-width="0.85" fill="none"/>
<rect x="392.8" y="225.7" width="1.4" height="1.4" fill="#767676"/>
<path d="M396.0,219.6V233.3M395.1,219.6h1.8M395.1,233.3h1.8" stroke="#767676" stroke-width="0.85" fill="none"/>
<rect x="395.3" y="225.8" width="1.4" height="1.4" fill="#767676"/>
<path d="M398.6,219.6V234.0M397.7,219.6h1.8M397.7,234.0h1.8" stroke="#767676" stroke-width="0.85" fill="none"/>
<rect x="397.9" y="226.1" width="1.4" height="1.4" fill="#767676"/>
<path d="M401.1,219.7V237.0M400.2,219.7h1.8M400.2,237.0h1.8" stroke="#767676" stroke-width="0.85" fill="none"/>
<rect x="400.4" y="227.7" width="1.4" height="1.4" fill="#767676"/>
<path d="M403.6,220.7V233.0M402.8,220.7h1.8M402.8,233.0h1.8" stroke="#767676" stroke-width="0.85" fill="none"/>
<rect x="402.9" y="226.1" width="1.4" height="1.4" fill="#767676"/>
<path d="M406.2,227.2V231.2M405.3,227.2h1.8M405.3,231.2h1.8" stroke="#767676" stroke-width="0.85" fill="none"/>
<rect x="405.5" y="228.5" width="1.4" height="1.4" fill="#767676"/>
<path d="M408.8,224.2V233.7M407.9,224.2h1.8M407.9,233.7h1.8" stroke="#767676" stroke-width="0.85" fill="none"/>
<rect x="408.1" y="228.3" width="1.4" height="1.4" fill="#767676"/>
<path d="M411.3,227.0V232.0M410.4,227.0h1.8M410.4,232.0h1.8" stroke="#767676" stroke-width="0.85" fill="none"/>
<rect x="410.6" y="228.8" width="1.4" height="1.4" fill="#767676"/>
<path d="M413.9,225.0V233.4M413.0,225.0h1.8M413.0,233.4h1.8" stroke="#767676" stroke-width="0.85" fill="none"/>
<rect x="413.2" y="228.5" width="1.4" height="1.4" fill="#767676"/>
<path d="M416.4,226.3V230.6M415.5,226.3h1.8M415.5,230.6h1.8" stroke="#767676" stroke-width="0.85" fill="none"/>
<rect x="415.7" y="227.7" width="1.4" height="1.4" fill="#767676"/>
<path d="M418.9,220.1V237.2M418.1,220.1h1.8M418.1,237.2h1.8" stroke="#767676" stroke-width="0.85" fill="none"/>
<rect x="418.2" y="228.0" width="1.4" height="1.4" fill="#767676"/>
<path d="M421.5,225.7V234.8M420.6,225.7h1.8M420.6,234.8h1.8" stroke="#767676" stroke-width="0.85" fill="none"/>
<rect x="420.8" y="229.5" width="1.4" height="1.4" fill="#767676"/>
<path d="M424.1,221.6V237.6M423.2,221.6h1.8M423.2,237.6h1.8" stroke="#767676" stroke-width="0.85" fill="none"/>
<rect x="423.4" y="228.9" width="1.4" height="1.4" fill="#767676"/>
<path d="M426.6,229.6V232.7M425.7,229.6h1.8M425.7,232.7h1.8" stroke="#767676" stroke-width="0.85" fill="none"/>
<rect x="425.9" y="230.4" width="1.4" height="1.4" fill="#767676"/>
<path d="M429.1,227.2V231.7M428.2,227.2h1.8M428.2,231.7h1.8" stroke="#767676" stroke-width="0.85" fill="none"/>
<rect x="428.4" y="228.8" width="1.4" height="1.4" fill="#767676"/>
<path d="M431.7,225.4V238.1M430.8,225.4h1.8M430.8,238.1h1.8" stroke="#767676" stroke-width="0.85" fill="none"/>
<rect x="431.0" y="231.1" width="1.4" height="1.4" fill="#767676"/>
<path d="M434.2,229.2V232.7M433.4,229.2h1.8M433.4,232.7h1.8" stroke="#767676" stroke-width="0.85" fill="none"/>
<rect x="433.6" y="230.3" width="1.4" height="1.4" fill="#767676"/>
<path d="M436.8,225.9V233.1M435.9,225.9h1.8M435.9,233.1h1.8" stroke="#767676" stroke-width="0.85" fill="none"/>
<rect x="436.1" y="228.8" width="1.4" height="1.4" fill="#767676"/>
<path d="M439.4,223.7V240.5M438.5,223.7h1.8M438.5,240.5h1.8" stroke="#767676" stroke-width="0.85" fill="none"/>
<rect x="438.7" y="231.4" width="1.4" height="1.4" fill="#767676"/>
<path d="M441.9,229.3V235.2M441.0,229.3h1.8M441.0,235.2h1.8" stroke="#767676" stroke-width="0.85" fill="none"/>
<rect x="441.2" y="231.5" width="1.4" height="1.4" fill="#767676"/>
<path d="M444.4,223.0V236.6M443.6,223.0h1.8M443.6,236.6h1.8" stroke="#767676" stroke-width="0.85" fill="none"/>
<rect x="443.8" y="229.1" width="1.4" height="1.4" fill="#767676"/>
<path d="M447.0,226.7V234.5M446.1,226.7h1.8M446.1,234.5h1.8" stroke="#767676" stroke-width="0.85" fill="none"/>
<rect x="446.3" y="229.9" width="1.4" height="1.4" fill="#767676"/>
<path d="M449.6,226.7V235.0M448.7,226.7h1.8M448.7,235.0h1.8" stroke="#767676" stroke-width="0.85" fill="none"/>
<rect x="448.9" y="230.2" width="1.4" height="1.4" fill="#767676"/>
<path d="M452.1,227.1V233.9M451.2,227.1h1.8M451.2,233.9h1.8" stroke="#767676" stroke-width="0.85" fill="none"/>
<rect x="451.4" y="229.8" width="1.4" height="1.4" fill="#767676"/>
<path d="M454.6,224.1V238.5M453.8,224.1h1.8M453.8,238.5h1.8" stroke="#767676" stroke-width="0.85" fill="none"/>
<rect x="453.9" y="230.6" width="1.4" height="1.4" fill="#767676"/>
<path d="M457.2,227.4V234.9M456.3,227.4h1.8M456.3,234.9h1.8" stroke="#767676" stroke-width="0.85" fill="none"/>
<rect x="456.5" y="230.4" width="1.4" height="1.4" fill="#767676"/>
<path d="M459.8,223.3V238.7M458.9,223.3h1.8M458.9,238.7h1.8" stroke="#767676" stroke-width="0.85" fill="none"/>
<rect x="459.1" y="230.3" width="1.4" height="1.4" fill="#767676"/>
<path d="M462.3,224.6V239.5M461.4,224.6h1.8M461.4,239.5h1.8" stroke="#767676" stroke-width="0.85" fill="none"/>
<rect x="461.6" y="231.4" width="1.4" height="1.4" fill="#767676"/>
<path d="M464.9,226.6V235.5M464.0,226.6h1.8M464.0,235.5h1.8" stroke="#767676" stroke-width="0.85" fill="none"/>
<rect x="464.2" y="230.4" width="1.4" height="1.4" fill="#767676"/>
<path d="M467.4,224.8V241.5M466.5,224.8h1.8M466.5,241.5h1.8" stroke="#767676" stroke-width="0.85" fill="none"/>
<rect x="466.7" y="232.4" width="1.4" height="1.4" fill="#767676"/>
<path d="M469.9,228.0V235.0M469.1,228.0h1.8M469.1,235.0h1.8" stroke="#767676" stroke-width="0.85" fill="none"/>
<rect x="469.2" y="230.8" width="1.4" height="1.4" fill="#767676"/>
<path d="M472.5,227.6V236.1M471.6,227.6h1.8M471.6,236.1h1.8" stroke="#767676" stroke-width="0.85" fill="none"/>
<rect x="471.8" y="231.1" width="1.4" height="1.4" fill="#767676"/>
<path d="M475.1,226.7V239.9M474.2,226.7h1.8M474.2,239.9h1.8" stroke="#767676" stroke-width="0.85" fill="none"/>
<rect x="474.4" y="232.6" width="1.4" height="1.4" fill="#767676"/>
<path d="M477.6,230.2V234.6M476.7,230.2h1.8M476.7,234.6h1.8" stroke="#767676" stroke-width="0.85" fill="none"/>
<rect x="476.9" y="231.7" width="1.4" height="1.4" fill="#767676"/>
<path d="M480.1,227.5V239.9M479.2,227.5h1.8M479.2,239.9h1.8" stroke="#767676" stroke-width="0.85" fill="none"/>
<rect x="479.4" y="233.0" width="1.4" height="1.4" fill="#767676"/>
<path d="M482.7,229.2V238.3M481.8,229.2h1.8M481.8,238.3h1.8" stroke="#767676" stroke-width="0.85" fill="none"/>
<rect x="482.0" y="233.0" width="1.4" height="1.4" fill="#767676"/>
<path d="M485.2,233.2V236.1M484.4,233.2h1.8M484.4,236.1h1.8" stroke="#767676" stroke-width="0.85" fill="none"/>
<rect x="484.6" y="233.9" width="1.4" height="1.4" fill="#767676"/>
<path d="M487.8,232.7V235.4M486.9,232.7h1.8M486.9,235.4h1.8" stroke="#767676" stroke-width="0.85" fill="none"/>
<rect x="487.1" y="233.4" width="1.4" height="1.4" fill="#767676"/>
<path d="M490.4,232.9V237.1M489.5,232.9h1.8M489.5,237.1h1.8" stroke="#767676" stroke-width="0.85" fill="none"/>
<rect x="489.7" y="234.3" width="1.4" height="1.4" fill="#767676"/>
<path d="M492.9,230.1V236.9M492.0,230.1h1.8M492.0,236.9h1.8" stroke="#767676" stroke-width="0.85" fill="none"/>
<rect x="492.2" y="232.8" width="1.4" height="1.4" fill="#767676"/>
<path d="M495.4,230.8V234.8M494.6,230.8h1.8M494.6,234.8h1.8" stroke="#767676" stroke-width="0.85" fill="none"/>
<rect x="494.8" y="232.1" width="1.4" height="1.4" fill="#767676"/>
<path d="M498.0,231.8V239.1M497.1,231.8h1.8M497.1,239.1h1.8" stroke="#767676" stroke-width="0.85" fill="none"/>
<rect x="497.3" y="234.8" width="1.4" height="1.4" fill="#767676"/>
<path d="M500.6,231.7V237.8M499.7,231.7h1.8M499.7,237.8h1.8" stroke="#767676" stroke-width="0.85" fill="none"/>
<rect x="499.9" y="234.0" width="1.4" height="1.4" fill="#767676"/>
<path d="M503.1,230.5V239.1M502.2,230.5h1.8M502.2,239.1h1.8" stroke="#767676" stroke-width="0.85" fill="none"/>
<rect x="502.4" y="234.1" width="1.4" height="1.4" fill="#767676"/>
<path d="M505.6,227.7V240.4M504.8,227.7h1.8M504.8,240.4h1.8" stroke="#767676" stroke-width="0.85" fill="none"/>
<rect x="504.9" y="233.3" width="1.4" height="1.4" fill="#767676"/>
<path d="M508.2,230.9V239.3M507.3,230.9h1.8M507.3,239.3h1.8" stroke="#767676" stroke-width="0.85" fill="none"/>
<rect x="507.5" y="234.4" width="1.4" height="1.4" fill="#767676"/>
<path d="M510.8,233.0V237.0M509.9,233.0h1.8M509.9,237.0h1.8" stroke="#767676" stroke-width="0.85" fill="none"/>
<rect x="510.1" y="234.3" width="1.4" height="1.4" fill="#767676"/>
<path d="M513.3,232.7V236.7M512.4,232.7h1.8M512.4,236.7h1.8" stroke="#767676" stroke-width="0.85" fill="none"/>
<rect x="512.6" y="234.0" width="1.4" height="1.4" fill="#767676"/>
<path d="M515.9,230.0V237.9M515.0,230.0h1.8M515.0,237.9h1.8" stroke="#767676" stroke-width="0.85" fill="none"/>
<rect x="515.1" y="233.2" width="1.4" height="1.4" fill="#767676"/>
<path d="M518.4,232.8V236.0M517.5,232.8h1.8M517.5,236.0h1.8" stroke="#767676" stroke-width="0.85" fill="none"/>
<rect x="517.7" y="233.7" width="1.4" height="1.4" fill="#767676"/>
<path d="M521.0,233.4V236.2M520.1,233.4h1.8M520.1,236.2h1.8" stroke="#767676" stroke-width="0.85" fill="none"/>
<rect x="520.2" y="234.1" width="1.4" height="1.4" fill="#767676"/>
<path d="M523.5,229.0V240.7M522.6,229.0h1.8M522.6,240.7h1.8" stroke="#767676" stroke-width="0.85" fill="none"/>
<rect x="522.8" y="234.1" width="1.4" height="1.4" fill="#767676"/>
<path d="M526.0,233.0V240.4M525.1,233.0h1.8M525.1,240.4h1.8" stroke="#767676" stroke-width="0.85" fill="none"/>
<rect x="525.3" y="236.0" width="1.4" height="1.4" fill="#767676"/>
<path d="M528.6,230.3V239.2M527.7,230.3h1.8M527.7,239.2h1.8" stroke="#767676" stroke-width="0.85" fill="none"/>
<rect x="527.9" y="234.0" width="1.4" height="1.4" fill="#767676"/>
<path d="M531.1,228.4V243.5M530.2,228.4h1.8M530.2,243.5h1.8" stroke="#767676" stroke-width="0.85" fill="none"/>
<rect x="530.4" y="235.3" width="1.4" height="1.4" fill="#767676"/>
<path d="M533.7,232.9V237.6M532.8,232.9h1.8M532.8,237.6h1.8" stroke="#767676" stroke-width="0.85" fill="none"/>
<rect x="533.0" y="234.6" width="1.4" height="1.4" fill="#767676"/>
<path d="M536.2,227.1V243.4M535.4,227.1h1.8M535.4,243.4h1.8" stroke="#767676" stroke-width="0.85" fill="none"/>
<rect x="535.5" y="234.5" width="1.4" height="1.4" fill="#767676"/>
<path d="M538.8,229.5V243.0M537.9,229.5h1.8M537.9,243.0h1.8" stroke="#767676" stroke-width="0.85" fill="none"/>
<rect x="538.1" y="235.5" width="1.4" height="1.4" fill="#767676"/>
<path d="M541.4,234.8V240.8M540.5,234.8h1.8M540.5,240.8h1.8" stroke="#767676" stroke-width="0.85" fill="none"/>
<rect x="540.6" y="237.1" width="1.4" height="1.4" fill="#767676"/>
<path d="M543.9,233.0V240.1M543.0,233.0h1.8M543.0,240.1h1.8" stroke="#767676" stroke-width="0.85" fill="none"/>
<rect x="543.2" y="235.8" width="1.4" height="1.4" fill="#767676"/>
<path d="M546.5,232.7V241.4M545.6,232.7h1.8M545.6,241.4h1.8" stroke="#767676" stroke-width="0.85" fill="none"/>
<rect x="545.8" y="236.4" width="1.4" height="1.4" fill="#767676"/>
<path d="M549.0,234.0V242.0M548.1,234.0h1.8M548.1,242.0h1.8" stroke="#767676" stroke-width="0.85" fill="none"/>
<rect x="548.3" y="237.3" width="1.4" height="1.4" fill="#767676"/>
<path d="M551.5,230.5V244.8M550.6,230.5h1.8M550.6,244.8h1.8" stroke="#767676" stroke-width="0.85" fill="none"/>
<rect x="550.8" y="236.9" width="1.4" height="1.4" fill="#767676"/>
<path d="M554.1,231.5V242.0M553.2,231.5h1.8M553.2,242.0h1.8" stroke="#767676" stroke-width="0.85" fill="none"/>
<rect x="553.4" y="236.1" width="1.4" height="1.4" fill="#767676"/>
<path d="M556.6,235.0V241.7M555.8,235.0h1.8M555.8,241.7h1.8" stroke="#767676" stroke-width="0.85" fill="none"/>
<rect x="555.9" y="237.6" width="1.4" height="1.4" fill="#767676"/>
<path d="M559.2,237.1V241.4M558.3,237.1h1.8M558.3,241.4h1.8" stroke="#767676" stroke-width="0.85" fill="none"/>
<rect x="558.5" y="238.5" width="1.4" height="1.4" fill="#767676"/>
<path d="M561.8,236.1V241.4M560.9,236.1h1.8M560.9,241.4h1.8" stroke="#767676" stroke-width="0.85" fill="none"/>
<rect x="561.0" y="238.0" width="1.4" height="1.4" fill="#767676"/>
<path d="M564.3,236.3V243.1M563.4,236.3h1.8M563.4,243.1h1.8" stroke="#767676" stroke-width="0.85" fill="none"/>
<rect x="563.6" y="239.0" width="1.4" height="1.4" fill="#767676"/>
<path d="M566.9,236.9V241.1M566.0,236.9h1.8M566.0,241.1h1.8" stroke="#767676" stroke-width="0.85" fill="none"/>
<rect x="566.1" y="238.3" width="1.4" height="1.4" fill="#767676"/>
<path d="M569.4,236.2V240.9M568.5,236.2h1.8M568.5,240.9h1.8" stroke="#767676" stroke-width="0.85" fill="none"/>
<rect x="568.7" y="237.9" width="1.4" height="1.4" fill="#767676"/>
<path d="M572.0,236.9V240.4M571.1,236.9h1.8M571.1,240.4h1.8" stroke="#767676" stroke-width="0.85" fill="none"/>
<rect x="571.2" y="238.0" width="1.4" height="1.4" fill="#767676"/>
<path d="M574.5,232.9V249.0M573.6,232.9h1.8M573.6,249.0h1.8" stroke="#767676" stroke-width="0.85" fill="none"/>
<rect x="573.8" y="240.2" width="1.4" height="1.4" fill="#767676"/>
<path d="M577.0,238.4V245.5M576.1,238.4h1.8M576.1,245.5h1.8" stroke="#767676" stroke-width="0.85" fill="none"/>
<rect x="576.3" y="241.3" width="1.4" height="1.4" fill="#767676"/>
<path d="M579.6,236.7V245.8M578.7,236.7h1.8M578.7,245.8h1.8" stroke="#767676" stroke-width="0.85" fill="none"/>
<rect x="578.9" y="240.6" width="1.4" height="1.4" fill="#767676"/>
<path d="M582.1,238.2V245.4M581.2,238.2h1.8M581.2,245.4h1.8" stroke="#767676" stroke-width="0.85" fill="none"/>
<rect x="581.4" y="241.1" width="1.4" height="1.4" fill="#767676"/>
<path d="M584.7,237.4V251.1M583.8,237.4h1.8M583.8,251.1h1.8" stroke="#767676" stroke-width="0.85" fill="none"/>
<rect x="584.0" y="243.6" width="1.4" height="1.4" fill="#767676"/>
<path d="M587.2,239.6V250.2M586.4,239.6h1.8M586.4,250.2h1.8" stroke="#767676" stroke-width="0.85" fill="none"/>
<rect x="586.5" y="244.2" width="1.4" height="1.4" fill="#767676"/>
<path d="M589.8,238.9V248.3M588.9,238.9h1.8M588.9,248.3h1.8" stroke="#767676" stroke-width="0.85" fill="none"/>
<rect x="589.1" y="242.9" width="1.4" height="1.4" fill="#767676"/>
<path d="M592.4,242.4V248.1M591.5,242.4h1.8M591.5,248.1h1.8" stroke="#767676" stroke-width="0.85" fill="none"/>
<rect x="591.6" y="244.6" width="1.4" height="1.4" fill="#767676"/>
<path d="M594.9,239.5V254.4M594.0,239.5h1.8M594.0,254.4h1.8" stroke="#767676" stroke-width="0.85" fill="none"/>
<rect x="594.2" y="246.3" width="1.4" height="1.4" fill="#767676"/>
<path d="M597.5,246.0V251.3M596.6,246.0h1.8M596.6,251.3h1.8" stroke="#767676" stroke-width="0.85" fill="none"/>
<rect x="596.8" y="247.9" width="1.4" height="1.4" fill="#767676"/>
<path d="M600.0,245.3V254.1M599.1,245.3h1.8M599.1,254.1h1.8" stroke="#767676" stroke-width="0.85" fill="none"/>
<rect x="599.3" y="249.0" width="1.4" height="1.4" fill="#767676"/>
<path d="M602.5,246.3V254.9M601.6,246.3h1.8M601.6,254.9h1.8" stroke="#767676" stroke-width="0.85" fill="none"/>
<rect x="601.8" y="249.9" width="1.4" height="1.4" fill="#767676"/>
<path d="M605.1,248.8V257.1M604.2,248.8h1.8M604.2,257.1h1.8" stroke="#767676" stroke-width="0.85" fill="none"/>
<rect x="604.4" y="252.2" width="1.4" height="1.4" fill="#767676"/>
<path d="M607.6,251.1V259.1M606.8,251.1h1.8M606.8,259.1h1.8" stroke="#767676" stroke-width="0.85" fill="none"/>
<rect x="606.9" y="254.4" width="1.4" height="1.4" fill="#767676"/>
<path d="M610.2,253.8V261.6M609.3,253.8h1.8M609.3,261.6h1.8" stroke="#767676" stroke-width="0.85" fill="none"/>
<rect x="609.5" y="257.0" width="1.4" height="1.4" fill="#767676"/>
<path d="M612.8,255.4V262.9M611.9,255.4h1.8M611.9,262.9h1.8" stroke="#767676" stroke-width="0.85" fill="none"/>
<rect x="612.0" y="258.4" width="1.4" height="1.4" fill="#767676"/>
<path d="M615.3,258.0V265.2M614.4,258.0h1.8M614.4,265.2h1.8" stroke="#767676" stroke-width="0.85" fill="none"/>
<rect x="614.6" y="260.9" width="1.4" height="1.4" fill="#767676"/>
<path d="M617.8,261.3V268.2M616.9,261.3h1.8M616.9,268.2h1.8" stroke="#767676" stroke-width="0.85" fill="none"/>
<rect x="617.1" y="264.1" width="1.4" height="1.4" fill="#767676"/>
<path d="M620.4,264.0V270.7M619.5,264.0h1.8M619.5,270.7h1.8" stroke="#767676" stroke-width="0.85" fill="none"/>
<rect x="619.7" y="266.6" width="1.4" height="1.4" fill="#767676"/>
<path d="M623.0,267.0V273.4M622.1,267.0h1.8M622.1,273.4h1.8" stroke="#767676" stroke-width="0.85" fill="none"/>
<rect x="622.2" y="269.5" width="1.4" height="1.4" fill="#767676"/>
<path d="M625.5,268.9V275.0M624.6,268.9h1.8M624.6,275.0h1.8" stroke="#767676" stroke-width="0.85" fill="none"/>
<rect x="624.8" y="271.3" width="1.4" height="1.4" fill="#767676"/>
<path d="M628.0,271.9V277.8M627.1,271.9h1.8M627.1,277.8h1.8" stroke="#767676" stroke-width="0.85" fill="none"/>
<rect x="627.3" y="274.2" width="1.4" height="1.4" fill="#767676"/>
<path d="M630.6,274.1V279.7M629.7,274.1h1.8M629.7,279.7h1.8" stroke="#767676" stroke-width="0.85" fill="none"/>
<rect x="629.9" y="276.2" width="1.4" height="1.4" fill="#767676"/>
<path d="M633.1,275.5V280.8M632.2,275.5h1.8M632.2,280.8h1.8" stroke="#767676" stroke-width="0.85" fill="none"/>
<rect x="632.4" y="277.4" width="1.4" height="1.4" fill="#767676"/>
<path d="M635.7,277.8V282.9M634.8,277.8h1.8M634.8,282.9h1.8" stroke="#767676" stroke-width="0.85" fill="none"/>
<rect x="635.0" y="279.7" width="1.4" height="1.4" fill="#767676"/>
<path d="M638.2,282.1V286.9M637.4,282.1h1.8M637.4,286.9h1.8" stroke="#767676" stroke-width="0.85" fill="none"/>
<rect x="637.5" y="283.8" width="1.4" height="1.4" fill="#767676"/>
<path d="M640.8,284.5V289.1M639.9,284.5h1.8M639.9,289.1h1.8" stroke="#767676" stroke-width="0.85" fill="none"/>
<rect x="640.1" y="286.1" width="1.4" height="1.4" fill="#767676"/>
<path d="M643.3,287.7V292.0M642.4,287.7h1.8M642.4,292.0h1.8" stroke="#767676" stroke-width="0.85" fill="none"/>
<rect x="642.6" y="289.2" width="1.4" height="1.4" fill="#767676"/>
<path d="M645.9,292.2V296.2M645.0,292.2h1.8M645.0,296.2h1.8" stroke="#767676" stroke-width="0.85" fill="none"/>
<rect x="645.2" y="293.5" width="1.4" height="1.4" fill="#767676"/>
<path d="M648.5,295.3V299.1M647.6,295.3h1.8M647.6,299.1h1.8" stroke="#767676" stroke-width="0.85" fill="none"/>
<rect x="647.8" y="296.5" width="1.4" height="1.4" fill="#767676"/>
<path d="M651.0,299.0V302.5M650.1,299.0h1.8M650.1,302.5h1.8" stroke="#767676" stroke-width="0.85" fill="none"/>
<rect x="650.3" y="300.0" width="1.4" height="1.4" fill="#767676"/>
<path d="M653.5,302.7V305.9M652.6,302.7h1.8M652.6,305.9h1.8" stroke="#767676" stroke-width="0.85" fill="none"/>
<rect x="652.8" y="303.6" width="1.4" height="1.4" fill="#767676"/>
<path d="M656.1,307.0V310.0M655.2,307.0h1.8M655.2,310.0h1.8" stroke="#767676" stroke-width="0.85" fill="none"/>
<rect x="655.4" y="307.8" width="1.4" height="1.4" fill="#767676"/>
<path d="M658.6,311.1V313.8M657.8,311.1h1.8M657.8,313.8h1.8" stroke="#767676" stroke-width="0.85" fill="none"/>
<rect x="657.9" y="311.8" width="1.4" height="1.4" fill="#767676"/>
<path d="M661.2,314.3V316.7M660.3,314.3h1.8M660.3,316.7h1.8" stroke="#767676" stroke-width="0.85" fill="none"/>
<rect x="660.5" y="314.8" width="1.4" height="1.4" fill="#767676"/>
<path d="M663.8,318.0V320.2M662.9,318.0h1.8M662.9,320.2h1.8" stroke="#767676" stroke-width="0.85" fill="none"/>
<rect x="663.0" y="318.4" width="1.4" height="1.4" fill="#767676"/>
<path d="M666.3,322.1V324.1M665.4,322.1h1.8M665.4,324.1h1.8" stroke="#767676" stroke-width="0.85" fill="none"/>
<rect x="665.6" y="322.4" width="1.4" height="1.4" fill="#767676"/>
<path d="M668.8,325.3V327.1M667.9,325.3h1.8M667.9,327.1h1.8" stroke="#767676" stroke-width="0.85" fill="none"/>
<rect x="668.1" y="325.5" width="1.4" height="1.4" fill="#767676"/>
<path d="M671.4,329.3V331.0M670.5,329.3h1.8M670.5,331.0h1.8" stroke="#767676" stroke-width="0.85" fill="none"/>
<rect x="670.7" y="329.5" width="1.4" height="1.4" fill="#767676"/>
<path d="M674.0,331.5V333.2M673.1,331.5h1.8M673.1,333.2h1.8" stroke="#767676" stroke-width="0.85" fill="none"/>
<rect x="673.2" y="331.6" width="1.4" height="1.4" fill="#767676"/>
<path d="M676.5,333.9V335.6M675.6,333.9h1.8M675.6,335.6h1.8" stroke="#767676" stroke-width="0.85" fill="none"/>
<rect x="675.8" y="334.1" width="1.4" height="1.4" fill="#767676"/>
<path d="M679.0,336.2V337.9M678.1,336.2h1.8M678.1,337.9h1.8" stroke="#767676" stroke-width="0.85" fill="none"/>
<rect x="678.3" y="336.4" width="1.4" height="1.4" fill="#767676"/>
<path d="M681.6,337.6V339.4M680.7,337.6h1.8M680.7,339.4h1.8" stroke="#767676" stroke-width="0.85" fill="none"/>
<rect x="680.9" y="337.8" width="1.4" height="1.4" fill="#767676"/>
<path d="M684.1,338.3V340.1M683.2,338.3h1.8M683.2,340.1h1.8" stroke="#767676" stroke-width="0.85" fill="none"/>
<rect x="683.4" y="338.5" width="1.4" height="1.4" fill="#767676"/>
<path d="M360.3,278.9V285.7" stroke="#f5821f" stroke-width="1.0"/>
<rect x="359.4" y="281.4" width="1.8" height="1.8" fill="#f5821f"/>
<path d="M362.9,283.6V288.9" stroke="#f5821f" stroke-width="1.0"/>
<rect x="362.0" y="285.3" width="1.8" height="1.8" fill="#f5821f"/>
<path d="M365.4,283.1V286.9" stroke="#f5821f" stroke-width="1.0"/>
<rect x="364.5" y="284.1" width="1.8" height="1.8" fill="#f5821f"/>
<path d="M367.9,274.5V281.4" stroke="#f5821f" stroke-width="1.0"/>
<rect x="367.1" y="277.0" width="1.8" height="1.8" fill="#f5821f"/>
<path d="M370.5,285.3V290.7" stroke="#f5821f" stroke-width="1.0"/>
<rect x="369.6" y="287.1" width="1.8" height="1.8" fill="#f5821f"/>
<path d="M373.1,285.3V290.4" stroke="#f5821f" stroke-width="1.0"/>
<rect x="372.2" y="286.9" width="1.8" height="1.8" fill="#f5821f"/>
<path d="M375.6,296.5V301.8" stroke="#f5821f" stroke-width="1.0"/>
<rect x="374.7" y="298.2" width="1.8" height="1.8" fill="#f5821f"/>
<path d="M378.2,274.2V281.2" stroke="#f5821f" stroke-width="1.0"/>
<rect x="377.3" y="276.8" width="1.8" height="1.8" fill="#f5821f"/>
<path d="M380.7,283.5V288.0" stroke="#f5821f" stroke-width="1.0"/>
<rect x="379.8" y="284.9" width="1.8" height="1.8" fill="#f5821f"/>
<path d="M383.2,276.9V281.8" stroke="#f5821f" stroke-width="1.0"/>
<rect x="382.4" y="278.4" width="1.8" height="1.8" fill="#f5821f"/>
<path d="M385.8,282.6V289.3" stroke="#f5821f" stroke-width="1.0"/>
<rect x="384.9" y="285.1" width="1.8" height="1.8" fill="#f5821f"/>
<path d="M388.4,284.5V290.2" stroke="#f5821f" stroke-width="1.0"/>
<rect x="387.5" y="286.5" width="1.8" height="1.8" fill="#f5821f"/>
<path d="M390.9,281.2V288.1" stroke="#f5821f" stroke-width="1.0"/>
<rect x="390.0" y="283.8" width="1.8" height="1.8" fill="#f5821f"/>
<path d="M393.4,285.2V289.0" stroke="#f5821f" stroke-width="1.0"/>
<rect x="392.6" y="286.2" width="1.8" height="1.8" fill="#f5821f"/>
<path d="M396.0,281.4V285.6" stroke="#f5821f" stroke-width="1.0"/>
<rect x="395.1" y="282.6" width="1.8" height="1.8" fill="#f5821f"/>
<path d="M398.6,284.4V289.4" stroke="#f5821f" stroke-width="1.0"/>
<rect x="397.7" y="286.0" width="1.8" height="1.8" fill="#f5821f"/>
<path d="M401.1,277.5V282.1" stroke="#f5821f" stroke-width="1.0"/>
<rect x="400.2" y="278.9" width="1.8" height="1.8" fill="#f5821f"/>
<path d="M403.6,276.4V282.1" stroke="#f5821f" stroke-width="1.0"/>
<rect x="402.8" y="278.3" width="1.8" height="1.8" fill="#f5821f"/>
<path d="M406.2,303.1V309.4" stroke="#f5821f" stroke-width="1.0"/>
<rect x="405.3" y="305.4" width="1.8" height="1.8" fill="#f5821f"/>
<path d="M408.8,284.4V290.0" stroke="#f5821f" stroke-width="1.0"/>
<rect x="407.9" y="286.3" width="1.8" height="1.8" fill="#f5821f"/>
<path d="M411.3,280.0V286.9" stroke="#f5821f" stroke-width="1.0"/>
<rect x="410.4" y="282.5" width="1.8" height="1.8" fill="#f5821f"/>
<path d="M413.9,284.2V288.3" stroke="#f5821f" stroke-width="1.0"/>
<rect x="413.0" y="285.3" width="1.8" height="1.8" fill="#f5821f"/>
<path d="M416.4,294.4V300.5" stroke="#f5821f" stroke-width="1.0"/>
<rect x="415.5" y="296.6" width="1.8" height="1.8" fill="#f5821f"/>
<path d="M418.9,276.1V281.8" stroke="#f5821f" stroke-width="1.0"/>
<rect x="418.1" y="278.0" width="1.8" height="1.8" fill="#f5821f"/>
<path d="M421.5,275.9V280.3" stroke="#f5821f" stroke-width="1.0"/>
<rect x="420.6" y="277.2" width="1.8" height="1.8" fill="#f5821f"/>
<path d="M424.1,279.7V284.2" stroke="#f5821f" stroke-width="1.0"/>
<rect x="423.2" y="281.0" width="1.8" height="1.8" fill="#f5821f"/>
<path d="M426.6,283.0V288.5" stroke="#f5821f" stroke-width="1.0"/>
<rect x="425.7" y="284.9" width="1.8" height="1.8" fill="#f5821f"/>
<path d="M429.1,276.5V280.7" stroke="#f5821f" stroke-width="1.0"/>
<rect x="428.2" y="277.7" width="1.8" height="1.8" fill="#f5821f"/>
<path d="M431.7,285.4V289.6" stroke="#f5821f" stroke-width="1.0"/>
<rect x="430.8" y="286.6" width="1.8" height="1.8" fill="#f5821f"/>
<path d="M434.2,294.7V301.4" stroke="#f5821f" stroke-width="1.0"/>
<rect x="433.4" y="297.1" width="1.8" height="1.8" fill="#f5821f"/>
<path d="M436.8,280.0V284.1" stroke="#f5821f" stroke-width="1.0"/>
<rect x="435.9" y="281.2" width="1.8" height="1.8" fill="#f5821f"/>
<path d="M439.4,277.4V284.3" stroke="#f5821f" stroke-width="1.0"/>
<rect x="438.5" y="279.9" width="1.8" height="1.8" fill="#f5821f"/>
<path d="M441.9,278.2V282.8" stroke="#f5821f" stroke-width="1.0"/>
<rect x="441.0" y="279.6" width="1.8" height="1.8" fill="#f5821f"/>
<path d="M444.4,277.1V283.8" stroke="#f5821f" stroke-width="1.0"/>
<rect x="443.6" y="279.6" width="1.8" height="1.8" fill="#f5821f"/>
<path d="M447.0,276.2V281.0" stroke="#f5821f" stroke-width="1.0"/>
<rect x="446.1" y="277.7" width="1.8" height="1.8" fill="#f5821f"/>
<path d="M449.6,280.7V286.9" stroke="#f5821f" stroke-width="1.0"/>
<rect x="448.7" y="282.9" width="1.8" height="1.8" fill="#f5821f"/>
<path d="M452.1,281.4V286.9" stroke="#f5821f" stroke-width="1.0"/>
<rect x="451.2" y="283.3" width="1.8" height="1.8" fill="#f5821f"/>
<path d="M454.6,274.5V281.1" stroke="#f5821f" stroke-width="1.0"/>
<rect x="453.8" y="276.9" width="1.8" height="1.8" fill="#f5821f"/>
<path d="M457.2,294.9V300.0" stroke="#f5821f" stroke-width="1.0"/>
<rect x="456.3" y="296.6" width="1.8" height="1.8" fill="#f5821f"/>
<path d="M459.8,285.0V290.6" stroke="#f5821f" stroke-width="1.0"/>
<rect x="458.9" y="286.9" width="1.8" height="1.8" fill="#f5821f"/>
<path d="M462.3,280.1V285.8" stroke="#f5821f" stroke-width="1.0"/>
<rect x="461.4" y="282.1" width="1.8" height="1.8" fill="#f5821f"/>
<path d="M464.9,282.1V288.0" stroke="#f5821f" stroke-width="1.0"/>
<rect x="464.0" y="284.1" width="1.8" height="1.8" fill="#f5821f"/>
<path d="M467.4,278.7V283.8" stroke="#f5821f" stroke-width="1.0"/>
<rect x="466.5" y="280.4" width="1.8" height="1.8" fill="#f5821f"/>
<path d="M469.9,283.6V288.6" stroke="#f5821f" stroke-width="1.0"/>
<rect x="469.1" y="285.2" width="1.8" height="1.8" fill="#f5821f"/>
<path d="M472.5,281.4V286.9" stroke="#f5821f" stroke-width="1.0"/>
<rect x="471.6" y="283.2" width="1.8" height="1.8" fill="#f5821f"/>
<path d="M475.1,276.2V282.7" stroke="#f5821f" stroke-width="1.0"/>
<rect x="474.2" y="278.5" width="1.8" height="1.8" fill="#f5821f"/>
<path d="M477.6,283.8V288.9" stroke="#f5821f" stroke-width="1.0"/>
<rect x="476.7" y="285.5" width="1.8" height="1.8" fill="#f5821f"/>
<path d="M480.1,291.6V296.8" stroke="#f5821f" stroke-width="1.0"/>
<rect x="479.2" y="293.3" width="1.8" height="1.8" fill="#f5821f"/>
<path d="M482.7,281.5V285.3" stroke="#f5821f" stroke-width="1.0"/>
<rect x="481.8" y="282.5" width="1.8" height="1.8" fill="#f5821f"/>
<path d="M485.2,288.1V293.7" stroke="#f5821f" stroke-width="1.0"/>
<rect x="484.4" y="290.0" width="1.8" height="1.8" fill="#f5821f"/>
<path d="M487.8,284.2V289.3" stroke="#f5821f" stroke-width="1.0"/>
<rect x="486.9" y="285.8" width="1.8" height="1.8" fill="#f5821f"/>
<path d="M490.4,284.8V288.5" stroke="#f5821f" stroke-width="1.0"/>
<rect x="489.5" y="285.8" width="1.8" height="1.8" fill="#f5821f"/>
<path d="M492.9,286.6V293.0" stroke="#f5821f" stroke-width="1.0"/>
<rect x="492.0" y="288.9" width="1.8" height="1.8" fill="#f5821f"/>
<path d="M495.4,281.1V285.3" stroke="#f5821f" stroke-width="1.0"/>
<rect x="494.6" y="282.3" width="1.8" height="1.8" fill="#f5821f"/>
<path d="M498.0,284.0V288.5" stroke="#f5821f" stroke-width="1.0"/>
<rect x="497.1" y="285.4" width="1.8" height="1.8" fill="#f5821f"/>
<path d="M500.6,278.7V284.8" stroke="#f5821f" stroke-width="1.0"/>
<rect x="499.7" y="280.8" width="1.8" height="1.8" fill="#f5821f"/>
<path d="M503.1,290.8V297.6" stroke="#f5821f" stroke-width="1.0"/>
<rect x="502.2" y="293.3" width="1.8" height="1.8" fill="#f5821f"/>
<path d="M505.6,290.3V297.0" stroke="#f5821f" stroke-width="1.0"/>
<rect x="504.8" y="292.7" width="1.8" height="1.8" fill="#f5821f"/>
<path d="M508.2,276.4V283.3" stroke="#f5821f" stroke-width="1.0"/>
<rect x="507.3" y="278.9" width="1.8" height="1.8" fill="#f5821f"/>
<path d="M510.8,277.4V283.8" stroke="#f5821f" stroke-width="1.0"/>
<rect x="509.9" y="279.7" width="1.8" height="1.8" fill="#f5821f"/>
<path d="M513.3,275.3V282.2" stroke="#f5821f" stroke-width="1.0"/>
<rect x="512.4" y="277.9" width="1.8" height="1.8" fill="#f5821f"/>
<path d="M515.9,281.4V288.2" stroke="#f5821f" stroke-width="1.0"/>
<rect x="515.0" y="283.9" width="1.8" height="1.8" fill="#f5821f"/>
<path d="M518.4,280.8V286.3" stroke="#f5821f" stroke-width="1.0"/>
<rect x="517.5" y="282.6" width="1.8" height="1.8" fill="#f5821f"/>
<path d="M521.0,277.8V281.6" stroke="#f5821f" stroke-width="1.0"/>
<rect x="520.1" y="278.8" width="1.8" height="1.8" fill="#f5821f"/>
<path d="M523.5,290.0V294.0" stroke="#f5821f" stroke-width="1.0"/>
<rect x="522.6" y="291.1" width="1.8" height="1.8" fill="#f5821f"/>
<path d="M526.0,276.4V282.4" stroke="#f5821f" stroke-width="1.0"/>
<rect x="525.1" y="278.5" width="1.8" height="1.8" fill="#f5821f"/>
<path d="M528.6,285.1V289.4" stroke="#f5821f" stroke-width="1.0"/>
<rect x="527.7" y="286.3" width="1.8" height="1.8" fill="#f5821f"/>
<path d="M531.1,290.4V295.8" stroke="#f5821f" stroke-width="1.0"/>
<rect x="530.2" y="292.2" width="1.8" height="1.8" fill="#f5821f"/>
<path d="M533.7,280.9V287.4" stroke="#f5821f" stroke-width="1.0"/>
<rect x="532.8" y="283.3" width="1.8" height="1.8" fill="#f5821f"/>
<path d="M536.2,275.4V280.7" stroke="#f5821f" stroke-width="1.0"/>
<rect x="535.4" y="277.1" width="1.8" height="1.8" fill="#f5821f"/>
<path d="M538.8,280.1V285.7" stroke="#f5821f" stroke-width="1.0"/>
<rect x="537.9" y="282.0" width="1.8" height="1.8" fill="#f5821f"/>
<path d="M541.4,292.1V298.4" stroke="#f5821f" stroke-width="1.0"/>
<rect x="540.5" y="294.4" width="1.8" height="1.8" fill="#f5821f"/>
<path d="M543.9,284.8V290.2" stroke="#f5821f" stroke-width="1.0"/>
<rect x="543.0" y="286.6" width="1.8" height="1.8" fill="#f5821f"/>
<path d="M546.5,282.8V287.9" stroke="#f5821f" stroke-width="1.0"/>
<rect x="545.6" y="284.4" width="1.8" height="1.8" fill="#f5821f"/>
<path d="M549.0,294.9V300.1" stroke="#f5821f" stroke-width="1.0"/>
<rect x="548.1" y="296.6" width="1.8" height="1.8" fill="#f5821f"/>
<path d="M551.5,276.5V280.5" stroke="#f5821f" stroke-width="1.0"/>
<rect x="550.6" y="277.6" width="1.8" height="1.8" fill="#f5821f"/>
<path d="M554.1,282.8V288.7" stroke="#f5821f" stroke-width="1.0"/>
<rect x="553.2" y="284.9" width="1.8" height="1.8" fill="#f5821f"/>
<path d="M556.6,284.0V290.1" stroke="#f5821f" stroke-width="1.0"/>
<rect x="555.8" y="286.2" width="1.8" height="1.8" fill="#f5821f"/>
<path d="M559.2,291.5V296.9" stroke="#f5821f" stroke-width="1.0"/>
<rect x="558.3" y="293.3" width="1.8" height="1.8" fill="#f5821f"/>
<path d="M561.8,280.6V284.7" stroke="#f5821f" stroke-width="1.0"/>
<rect x="560.9" y="281.7" width="1.8" height="1.8" fill="#f5821f"/>
<path d="M564.3,279.4V285.9" stroke="#f5821f" stroke-width="1.0"/>
<rect x="563.4" y="281.7" width="1.8" height="1.8" fill="#f5821f"/>
<path d="M566.9,277.2V283.6" stroke="#f5821f" stroke-width="1.0"/>
<rect x="566.0" y="279.5" width="1.8" height="1.8" fill="#f5821f"/>
<path d="M569.4,294.2V298.5" stroke="#f5821f" stroke-width="1.0"/>
<rect x="568.5" y="295.5" width="1.8" height="1.8" fill="#f5821f"/>
<path d="M572.0,282.6V288.7" stroke="#f5821f" stroke-width="1.0"/>
<rect x="571.1" y="284.8" width="1.8" height="1.8" fill="#f5821f"/>
<path d="M574.5,280.6V286.9" stroke="#f5821f" stroke-width="1.0"/>
<rect x="573.6" y="282.8" width="1.8" height="1.8" fill="#f5821f"/>
<path d="M577.0,285.9V290.1" stroke="#f5821f" stroke-width="1.0"/>
<rect x="576.1" y="287.1" width="1.8" height="1.8" fill="#f5821f"/>
<path d="M579.6,290.4V295.7" stroke="#f5821f" stroke-width="1.0"/>
<rect x="578.7" y="292.2" width="1.8" height="1.8" fill="#f5821f"/>
<path d="M582.1,284.3V288.1" stroke="#f5821f" stroke-width="1.0"/>
<rect x="581.2" y="285.3" width="1.8" height="1.8" fill="#f5821f"/>
<path d="M584.7,280.0V285.5" stroke="#f5821f" stroke-width="1.0"/>
<rect x="583.8" y="281.9" width="1.8" height="1.8" fill="#f5821f"/>
<path d="M587.2,275.9V282.9" stroke="#f5821f" stroke-width="1.0"/>
<rect x="586.4" y="278.5" width="1.8" height="1.8" fill="#f5821f"/>
<path d="M589.8,292.7V297.9" stroke="#f5821f" stroke-width="1.0"/>
<rect x="588.9" y="294.4" width="1.8" height="1.8" fill="#f5821f"/>
<path d="M592.4,280.3V285.3" stroke="#f5821f" stroke-width="1.0"/>
<rect x="591.5" y="281.9" width="1.8" height="1.8" fill="#f5821f"/>
<path d="M594.9,277.3V281.4" stroke="#f5821f" stroke-width="1.0"/>
<rect x="594.0" y="278.4" width="1.8" height="1.8" fill="#f5821f"/>
<path d="M597.5,295.4V299.5" stroke="#f5821f" stroke-width="1.0"/>
<rect x="596.6" y="296.6" width="1.8" height="1.8" fill="#f5821f"/>
<path d="M600.0,284.7V291.3" stroke="#f5821f" stroke-width="1.0"/>
<rect x="599.1" y="287.1" width="1.8" height="1.8" fill="#f5821f"/>
<path d="M602.5,277.5V284.1" stroke="#f5821f" stroke-width="1.0"/>
<rect x="601.6" y="279.9" width="1.8" height="1.8" fill="#f5821f"/>
<path d="M605.1,290.3V295.9" stroke="#f5821f" stroke-width="1.0"/>
<rect x="604.2" y="292.2" width="1.8" height="1.8" fill="#f5821f"/>
<path d="M607.6,274.7V281.1" stroke="#f5821f" stroke-width="1.0"/>
<rect x="606.8" y="277.0" width="1.8" height="1.8" fill="#f5821f"/>
<path d="M610.2,275.6V281.7" stroke="#f5821f" stroke-width="1.0"/>
<rect x="609.3" y="277.7" width="1.8" height="1.8" fill="#f5821f"/>
<path d="M612.8,277.2V282.1" stroke="#f5821f" stroke-width="1.0"/>
<rect x="611.9" y="278.7" width="1.8" height="1.8" fill="#f5821f"/>
<path d="M615.3,276.0V281.9" stroke="#f5821f" stroke-width="1.0"/>
<rect x="614.4" y="278.1" width="1.8" height="1.8" fill="#f5821f"/>
<path d="M617.8,277.7V282.6" stroke="#f5821f" stroke-width="1.0"/>
<rect x="616.9" y="279.3" width="1.8" height="1.8" fill="#f5821f"/>
<path d="M620.4,285.1V289.8" stroke="#f5821f" stroke-width="1.0"/>
<rect x="619.5" y="286.5" width="1.8" height="1.8" fill="#f5821f"/>
<path d="M623.0,285.2V290.9" stroke="#f5821f" stroke-width="1.0"/>
<rect x="622.1" y="287.1" width="1.8" height="1.8" fill="#f5821f"/>
<path d="M625.5,282.8V288.7" stroke="#f5821f" stroke-width="1.0"/>
<rect x="624.6" y="284.8" width="1.8" height="1.8" fill="#f5821f"/>
<path d="M628.0,280.3V285.7" stroke="#f5821f" stroke-width="1.0"/>
<rect x="627.1" y="282.1" width="1.8" height="1.8" fill="#f5821f"/>
<path d="M630.6,282.6V288.5" stroke="#f5821f" stroke-width="1.0"/>
<rect x="629.7" y="284.7" width="1.8" height="1.8" fill="#f5821f"/>
<path d="M633.1,279.8V285.5" stroke="#f5821f" stroke-width="1.0"/>
<rect x="632.2" y="281.8" width="1.8" height="1.8" fill="#f5821f"/>
<path d="M635.7,285.6V289.3" stroke="#f5821f" stroke-width="1.0"/>
<rect x="634.8" y="286.5" width="1.8" height="1.8" fill="#f5821f"/>
<path d="M638.2,287.3V291.7" stroke="#f5821f" stroke-width="1.0"/>
<rect x="637.4" y="288.6" width="1.8" height="1.8" fill="#f5821f"/>
<path d="M640.8,294.8V300.3" stroke="#f5821f" stroke-width="1.0"/>
<rect x="639.9" y="296.7" width="1.8" height="1.8" fill="#f5821f"/>
<path d="M643.3,292.0V297.6" stroke="#f5821f" stroke-width="1.0"/>
<rect x="642.4" y="293.9" width="1.8" height="1.8" fill="#f5821f"/>
<path d="M645.9,297.0V302.2" stroke="#f5821f" stroke-width="1.0"/>
<rect x="645.0" y="298.7" width="1.8" height="1.8" fill="#f5821f"/>
<path d="M648.5,298.5V305.4" stroke="#f5821f" stroke-width="1.0"/>
<rect x="647.6" y="301.1" width="1.8" height="1.8" fill="#f5821f"/>
<path d="M651.0,304.9V310.2" stroke="#f5821f" stroke-width="1.0"/>
<rect x="650.1" y="306.6" width="1.8" height="1.8" fill="#f5821f"/>
<path d="M653.5,308.1V313.0" stroke="#f5821f" stroke-width="1.0"/>
<rect x="652.6" y="309.7" width="1.8" height="1.8" fill="#f5821f"/>
<path d="M656.1,312.2V316.8" stroke="#f5821f" stroke-width="1.0"/>
<rect x="655.2" y="313.6" width="1.8" height="1.8" fill="#f5821f"/>
<path d="M658.6,317.4V321.5" stroke="#f5821f" stroke-width="1.0"/>
<rect x="657.8" y="318.5" width="1.8" height="1.8" fill="#f5821f"/>
<path d="M661.2,319.0V322.7" stroke="#f5821f" stroke-width="1.0"/>
<rect x="660.3" y="319.9" width="1.8" height="1.8" fill="#f5821f"/>
<path d="M663.8,322.8V326.2" stroke="#f5821f" stroke-width="1.0"/>
<rect x="662.9" y="323.6" width="1.8" height="1.8" fill="#f5821f"/>
<path d="M666.3,325.4V328.3" stroke="#f5821f" stroke-width="1.0"/>
<rect x="665.4" y="326.0" width="1.8" height="1.8" fill="#f5821f"/>
<path d="M668.8,329.2V331.7" stroke="#f5821f" stroke-width="1.0"/>
<rect x="667.9" y="329.6" width="1.8" height="1.8" fill="#f5821f"/>
<path d="M671.4,331.7V333.8" stroke="#f5821f" stroke-width="1.0"/>
<rect x="670.5" y="331.9" width="1.8" height="1.8" fill="#f5821f"/>
<path d="M674.0,335.6V337.3" stroke="#f5821f" stroke-width="1.0"/>
<rect x="673.1" y="335.6" width="1.8" height="1.8" fill="#f5821f"/>
<path d="M676.5,339.4V340.8" stroke="#f5821f" stroke-width="1.0"/>
<rect x="675.6" y="339.2" width="1.8" height="1.8" fill="#f5821f"/>
<path d="M679.0,339.9V341.2" stroke="#f5821f" stroke-width="1.0"/>
<rect x="678.1" y="339.6" width="1.8" height="1.8" fill="#f5821f"/>
<path d="M681.6,339.9V341.2" stroke="#f5821f" stroke-width="1.0"/>
<rect x="680.7" y="339.6" width="1.8" height="1.8" fill="#f5821f"/>
<path d="M684.1,339.9V341.2" stroke="#f5821f" stroke-width="1.0"/>
<rect x="683.2" y="339.6" width="1.8" height="1.8" fill="#f5821f"/>
<circle cx="454" cy="231.6" r="1.7" fill="#000"/>
<path d="M446.2,229.7l1.9,3.5h-3.8z" fill="#000"/>
<circle cx="454" cy="281.6" r="1.7" fill="#000"/>
<path d="M446.2,279.70000000000005l1.9,3.5h-3.8z" fill="#000"/>
<path d="M358.6,176.7V341.4H685" fill="none" stroke="#000" stroke-width="1.05"/>
<line x1="356.1" x2="358.6" y1="341.4" y2="341.4" stroke="#000" stroke-width="0.85"/>
<text x="355.3" y="344.0" font-size="7.4" text-anchor="end" font-weight="normal" fill="#000"  stroke="#000" stroke-width="0.2">0</text>
<line x1="356.1" x2="358.6" y1="286.5" y2="286.5" stroke="#000" stroke-width="0.85"/>
<text x="355.3" y="289.1" font-size="7.4" text-anchor="end" font-weight="normal" fill="#000"  stroke="#000" stroke-width="0.2">50</text>
<line x1="356.1" x2="358.6" y1="231.6" y2="231.6" stroke="#000" stroke-width="0.85"/>
<text x="355.3" y="234.2" font-size="7.4" text-anchor="end" font-weight="normal" fill="#000"  stroke="#000" stroke-width="0.2">100</text>
<line x1="356.1" x2="358.6" y1="176.7" y2="176.7" stroke="#000" stroke-width="0.85"/>
<text x="355.3" y="179.3" font-size="7.4" text-anchor="end" font-weight="normal" fill="#000"  stroke="#000" stroke-width="0.2">150</text>
<text x="364.6" y="310.4" font-size="6.3" text-anchor="start" font-weight="normal" fill="#000"  stroke="#000" stroke-width="0.2">LLY-507</text>
<text x="400.2" y="315.4" font-size="6.3" text-anchor="start" font-weight="normal" fill="#000"  stroke="#000" stroke-width="0.2">OF-1</text>
<text x="419.1" y="305.0" font-size="6.3" text-anchor="start" font-weight="normal" fill="#000"  stroke="#000" stroke-width="0.2">TRIM24-BRPF1</text>
<text x="446.9" y="309.7" font-size="6.3" text-anchor="start" font-weight="normal" fill="#000"  stroke="#000" stroke-width="0.2">SGC-CBP30</text>
<text x="512.8" y="298.6" font-size="6.3" text-anchor="start" font-weight="normal" fill="#000"  stroke="#000" stroke-width="0.2">PFI-4</text>
<text x="550.3" y="296.1" font-size="6.3" text-anchor="start" font-weight="normal" fill="#000"  stroke="#000" stroke-width="0.2">GSK6853</text>
<text x="536.0" y="307.5" font-size="6.3" text-anchor="start" font-weight="normal" fill="#000"  stroke="#000" stroke-width="0.2">GSK343</text>
<text x="562.7" y="306.8" font-size="6.3" text-anchor="start" font-weight="normal" fill="#000"  stroke="#000" stroke-width="0.2">GSK8814</text>
<text x="549.5" y="315.4" font-size="6.3" text-anchor="start" font-weight="normal" fill="#000"  stroke="#000" stroke-width="0.2">SRT1720</text>
<text x="577.3" y="315.7" font-size="6.3" text-anchor="start" font-weight="normal" fill="#000"  stroke="#000" stroke-width="0.2">CBP/BRD4</text>
<text x="580.9" y="301.8" font-size="6.3" text-anchor="start" font-weight="normal" fill="#000"  stroke="#000" stroke-width="0.2">A-485</text>
<text x="587.7" y="297.2" font-size="6.3" text-anchor="start" font-weight="normal" fill="#000"  stroke="#000" stroke-width="0.2">C-646</text>
<text x="602.0" y="302.5" font-size="6.3" text-anchor="start" font-weight="normal" fill="#000"  stroke="#000" stroke-width="0.2">AGK2</text>
<text x="597.7" y="307.9" font-size="6.3" text-anchor="start" font-weight="normal" fill="#000"  stroke="#000" stroke-width="0.2">GSK864</text>
<rect x="599.4" y="190.2" width="1.5" height="1.5" fill="#767676"/>
<rect x="599.4" y="200.6" width="1.5" height="1.5" fill="#f5821f"/>
<circle cx="600.2" cy="211.7" r="1.7" fill="#000"/>
<path d="M600.2,219.4l1.9,3.5h-3.8z" fill="#000"/>
<text x="610.8" y="193.4" font-size="7.4" text-anchor="start" font-weight="normal" fill="#000"  stroke="#000" stroke-width="0.2">Only Drug Library</text>
<text x="610.8" y="203.8" font-size="7.4" text-anchor="start" font-weight="normal" fill="#000"  stroke="#000" stroke-width="0.2">Taxol + Drug Library</text>
<text x="610.8" y="214.2" font-size="7.4" text-anchor="start" font-weight="normal" fill="#000"  stroke="#000" stroke-width="0.2">Control</text>
<text x="610.8" y="223.8" font-size="7.4" text-anchor="start" font-weight="normal" fill="#000"  stroke="#000" stroke-width="0.2">DMSO</text>
<path d="M185.00,375.80A73,73 0 0 1 219.74,384.60L199.75,421.54A31,31 0 0 0 185.00,417.80Z" fill="#e8760c" stroke="#fff" stroke-width="1.1" stroke-linejoin="round"/>
<path d="M219.74,384.60A73,73 0 0 1 246.11,408.87L210.95,431.84A31,31 0 0 0 199.75,421.54Z" fill="#7f7f7f" stroke="#fff" stroke-width="1.1" stroke-linejoin="round"/>
<path d="M246.11,408.87A73,73 0 0 1 257.75,442.77L215.89,446.24A31,31 0 0 0 210.95,431.84Z" fill="#8c8c8c" stroke="#fff" stroke-width="1.1" stroke-linejoin="round"/>
<path d="M257.75,442.77A73,73 0 0 1 257.75,454.83L215.89,451.36A31,31 0 0 0 215.89,446.24Z" fill="#999999" stroke="#fff" stroke-width="1.1" stroke-linejoin="round"/>
<path d="M257.75,454.83A73,73 0 0 1 246.11,488.73L210.95,465.76A31,31 0 0 0 215.89,451.36Z" fill="#a3a3a3" stroke="#fff" stroke-width="1.1" stroke-linejoin="round"/>
<path d="M246.11,488.73A73,73 0 0 1 219.74,513.00L199.75,476.06A31,31 0 0 0 210.95,465.76Z" fill="#adadad" stroke="#fff" stroke-width="1.1" stroke-linejoin="round"/>
<path d="M219.74,513.00A73,73 0 0 1 197.02,520.80L190.10,479.38A31,31 0 0 0 199.75,476.06Z" fill="#bcbcbc" stroke="#fff" stroke-width="1.1" stroke-linejoin="round"/>
<path d="M197.02,520.80A73,73 0 0 1 172.98,520.80L179.90,479.38A31,31 0 0 0 190.10,479.38Z" fill="#c6c6c6" stroke="#fff" stroke-width="1.1" stroke-linejoin="round"/>
<path d="M172.98,520.80A73,73 0 0 1 118.15,478.12L156.61,461.25A31,31 0 0 0 179.90,479.38Z" fill="#d6d6d6" stroke="#fff" stroke-width="1.1" stroke-linejoin="round"/>
<path d="M118.15,478.12A73,73 0 0 1 185.00,375.80L185.00,417.80A31,31 0 0 0 156.61,461.25Z" fill="#e2e2e2" stroke="#fff" stroke-width="1.1" stroke-linejoin="round"/>
<text x="159.2" y="389.5" font-size="6.3" text-anchor="start" font-weight="normal" fill="#0d0d0d" textLength="21.7" lengthAdjust="spacingAndGlyphs" stroke="#0d0d0d" stroke-width="0.12">EXOSC6</text>
<text x="159.2" y="397.7" font-size="6.3" text-anchor="start" font-weight="normal" fill="#0d0d0d" textLength="22.4" lengthAdjust="spacingAndGlyphs" stroke="#0d0d0d" stroke-width="0.12">ANP32E</text>
<text x="159.2" y="405.9" font-size="6.3" text-anchor="start" font-weight="normal" fill="#0d0d0d" textLength="13.5" lengthAdjust="spacingAndGlyphs" stroke="#0d0d0d" stroke-width="0.12">PKM</text>
<text x="159.2" y="414.5" font-size="6.3" text-anchor="start" font-weight="normal" fill="#0d0d0d" textLength="15.2" lengthAdjust="spacingAndGlyphs" stroke="#0d0d0d" stroke-width="0.12">NFYB</text>
<text x="189.6" y="390.2" font-size="6.3" text-anchor="start" font-weight="normal" fill="#0d0d0d" textLength="17.5" lengthAdjust="spacingAndGlyphs" stroke="#0d0d0d" stroke-width="0.12">BRPF1</text>
<text x="189.6" y="398.2" font-size="6.3" text-anchor="start" font-weight="normal" fill="#0d0d0d" textLength="14.8" lengthAdjust="spacingAndGlyphs" stroke="#0d0d0d" stroke-width="0.12">BRD3</text>
<text x="189.6" y="406.6" font-size="6.3" text-anchor="start" font-weight="normal" fill="#0d0d0d" textLength="14.8" lengthAdjust="spacingAndGlyphs" stroke="#0d0d0d" stroke-width="0.12">BRD8</text>
<text x="214.8" y="401.2" font-size="6.3" text-anchor="start" font-weight="normal" fill="#0d0d0d" textLength="15.2" lengthAdjust="spacingAndGlyphs" stroke="#0d0d0d" stroke-width="0.12">PSIP1</text>
<text x="214.8" y="409.4" font-size="6.3" text-anchor="start" font-weight="normal" fill="#0d0d0d" textLength="15.6" lengthAdjust="spacingAndGlyphs" stroke="#0d0d0d" stroke-width="0.12">CHD8</text>
<text x="214.8" y="417.6" font-size="6.3" text-anchor="start" font-weight="normal" fill="#0d0d0d" textLength="16.3" lengthAdjust="spacingAndGlyphs" stroke="#0d0d0d" stroke-width="0.12">MEN1</text>
<text x="230.0" y="425.0" font-size="6.3" text-anchor="start" font-weight="normal" fill="#0d0d0d" textLength="18.0" lengthAdjust="spacingAndGlyphs" stroke="#0d0d0d" stroke-width="0.12">CDY1B</text>
<text x="230.0" y="433.4" font-size="6.3" text-anchor="start" font-weight="normal" fill="#0d0d0d" textLength="14.4" lengthAdjust="spacingAndGlyphs" stroke="#0d0d0d" stroke-width="0.12">CDY1</text>
<text x="230.0" y="441.6" font-size="6.3" text-anchor="start" font-weight="normal" fill="#0d0d0d" textLength="17.3" lengthAdjust="spacingAndGlyphs" stroke="#0d0d0d" stroke-width="0.12">JADE3</text>
<text x="132.3" y="409.8" font-size="6.3" text-anchor="start" font-weight="normal" fill="#0d0d0d" textLength="21.3" lengthAdjust="spacingAndGlyphs" stroke="#0d0d0d" stroke-width="0.12">PPP2CA</text>
<text x="132.3" y="417.6" font-size="6.3" text-anchor="start" font-weight="normal" fill="#0d0d0d" textLength="22.0" lengthAdjust="spacingAndGlyphs" stroke="#0d0d0d" stroke-width="0.12">GATAD1</text>
<text x="132.3" y="425.7" font-size="6.3" text-anchor="start" font-weight="normal" fill="#0d0d0d" textLength="16.4" lengthAdjust="spacingAndGlyphs" stroke="#0d0d0d" stroke-width="0.12">MDB1</text>
<text x="132.3" y="434.4" font-size="6.3" text-anchor="start" font-weight="normal" fill="#0d0d0d" textLength="17.7" lengthAdjust="spacingAndGlyphs" stroke="#0d0d0d" stroke-width="0.12">AEBP2</text>
<text x="118.3" y="443.3" font-size="6.3" text-anchor="start" font-weight="normal" fill="#0d0d0d" textLength="17.7" lengthAdjust="spacingAndGlyphs" stroke="#0d0d0d" stroke-width="0.12">ARNTL</text>
<text x="118.3" y="451.5" font-size="6.3" text-anchor="start" font-weight="normal" fill="#0d0d0d" textLength="19.5" lengthAdjust="spacingAndGlyphs" stroke="#0d0d0d" stroke-width="0.12">PRDM4</text>
<text x="117.8" y="459.7" font-size="6.3" text-anchor="start" font-weight="normal" fill="#0d0d0d" textLength="22.9" lengthAdjust="spacingAndGlyphs" stroke="#0d0d0d" stroke-width="0.12">RAD54B</text>
<text x="117.8" y="467.9" font-size="6.3" text-anchor="start" font-weight="normal" fill="#0d0d0d" textLength="14.6" lengthAdjust="spacingAndGlyphs" stroke="#0d0d0d" stroke-width="0.12">BUB1</text>
<text x="132.3" y="479.0" font-size="6.3" text-anchor="start" font-weight="normal" fill="#0d0d0d" textLength="17.7" lengthAdjust="spacingAndGlyphs" stroke="#0d0d0d" stroke-width="0.12">USP15</text>
<text x="132.3" y="487.2" font-size="6.3" text-anchor="start" font-weight="normal" fill="#0d0d0d" textLength="22.0" lengthAdjust="spacingAndGlyphs" stroke="#0d0d0d" stroke-width="0.12">UBE2D1</text>
<text x="132.3" y="495.4" font-size="6.3" text-anchor="start" font-weight="normal" fill="#0d0d0d" textLength="14.7" lengthAdjust="spacingAndGlyphs" stroke="#0d0d0d" stroke-width="0.12">RNF2</text>
<text x="153.4" y="495.4" font-size="6.3" text-anchor="start" font-weight="normal" fill="#0d0d0d" textLength="14.2" lengthAdjust="spacingAndGlyphs" stroke="#0d0d0d" stroke-width="0.12">BAP1</text>
<text x="153.4" y="504.0" font-size="6.3" text-anchor="start" font-weight="normal" fill="#0d0d0d" textLength="17.9" lengthAdjust="spacingAndGlyphs" stroke="#0d0d0d" stroke-width="0.12">USP46</text>
<text x="153.4" y="512.2" font-size="6.3" text-anchor="start" font-weight="normal" fill="#0d0d0d" textLength="17.4" lengthAdjust="spacingAndGlyphs" stroke="#0d0d0d" stroke-width="0.12">KEAP1</text>
<text x="213.6" y="484.7" font-size="6.3" text-anchor="start" font-weight="normal" fill="#0d0d0d" textLength="18.7" lengthAdjust="spacingAndGlyphs" stroke="#0d0d0d" stroke-width="0.12">ABCG2</text>
<text x="213.6" y="492.8" font-size="6.3" text-anchor="start" font-weight="normal" fill="#0d0d0d" textLength="18.5" lengthAdjust="spacingAndGlyphs" stroke="#0d0d0d" stroke-width="0.12">ABCB1</text>
<text x="213.6" y="501.0" font-size="6.3" text-anchor="start" font-weight="normal" fill="#0d0d0d" textLength="13.4" lengthAdjust="spacingAndGlyphs" stroke="#0d0d0d" stroke-width="0.12">ESR1</text>
<text x="227.2" y="460.8" font-size="6.3" text-anchor="start" font-weight="normal" fill="#0d0d0d" textLength="26.1" lengthAdjust="spacingAndGlyphs" stroke="#0d0d0d" stroke-width="0.12">SUV39H1</text>
<text x="227.2" y="468.6" font-size="6.3" text-anchor="start" font-weight="normal" fill="#0d0d0d" textLength="19.4" lengthAdjust="spacingAndGlyphs" stroke="#0d0d0d" stroke-width="0.12">KMT2A</text>
<text x="227.2" y="477.2" font-size="6.3" text-anchor="start" font-weight="normal" fill="#0d0d0d" textLength="19.8" lengthAdjust="spacingAndGlyphs" stroke="#0d0d0d" stroke-width="0.12">KMT2D</text>
<text x="230.0" y="451.5" font-size="6.3" text-anchor="start" font-weight="normal" fill="#0d0d0d" textLength="22.9" lengthAdjust="spacingAndGlyphs" stroke="#0d0d0d" stroke-width="0.12">BRMS1L</text>
<text x="175.0" y="509.2" font-size="5.2" text-anchor="start" font-weight="normal" fill="#0d0d0d" textLength="17.6" lengthAdjust="spacingAndGlyphs" stroke="#0d0d0d" stroke-width="0.12">ARID1A</text>
<text x="174.6" y="517.0" font-size="5.2" text-anchor="start" font-weight="normal" fill="#0d0d0d" textLength="23.8" lengthAdjust="spacingAndGlyphs" stroke="#0d0d0d" stroke-width="0.12">SMARCE1</text>
<text x="195.6" y="503.4" font-size="5.2" text-anchor="start" font-weight="normal" fill="#0d0d0d" textLength="12.2" lengthAdjust="spacingAndGlyphs" stroke="#0d0d0d" stroke-width="0.12">CBX3</text>
<text x="195.6" y="510.6" font-size="5.2" text-anchor="start" font-weight="normal" fill="#0d0d0d" textLength="24.4" lengthAdjust="spacingAndGlyphs" stroke="#0d0d0d" stroke-width="0.12">ZMYND11</text>
<text x="184.6" y="451.5" font-size="7.2" text-anchor="middle" font-weight="normal" fill="#000" textLength="44.4" lengthAdjust="spacingAndGlyphs" stroke="#000" stroke-width="0.15">EPIKOL Screen</text>
<text x="204.3" y="376.2" font-size="8.1" text-anchor="start" font-weight="bold" fill="#e8760c" textLength="51.4" lengthAdjust="spacingAndGlyphs" stroke="#e8760c" stroke-width="0.3">Bromodomain</text>
<text x="236.7" y="395.0" font-size="8.1" text-anchor="start" font-weight="bold" fill="#000" textLength="50.0" lengthAdjust="spacingAndGlyphs" stroke="#000" stroke-width="0.3">COMPASS/MLL</text>
<text x="259.4" y="428.1" font-size="8.1" text-anchor="start" font-weight="bold" fill="#000" textLength="11.4" lengthAdjust="spacingAndGlyphs" stroke="#000" stroke-width="0.3">HAT</text>
<text x="262.3" y="451.8" font-size="8.1" text-anchor="start" font-weight="bold" fill="#000" textLength="17.9" lengthAdjust="spacingAndGlyphs" stroke="#000" stroke-width="0.3">HDAC</text>
<text x="256.2" y="479.4" font-size="8.1" text-anchor="start" font-weight="bold" fill="#000" textLength="14.3" lengthAdjust="spacingAndGlyphs" stroke="#000" stroke-width="0.3">KMT</text>
<text x="236.7" y="506.7" font-size="8.1" text-anchor="start" font-weight="bold" fill="#000" textLength="51.0" lengthAdjust="spacingAndGlyphs" stroke="#000" stroke-width="0.3">Positive Control</text>
<text x="204.9" y="526.1" font-size="8.1" text-anchor="start" font-weight="bold" fill="#000" textLength="21.8" lengthAdjust="spacingAndGlyphs" stroke="#000" stroke-width="0.3">Reader</text>
<text x="171.8" y="532.0" font-size="8.1" text-anchor="start" font-weight="bold" fill="#000" textLength="24.4" lengthAdjust="spacingAndGlyphs" stroke="#000" stroke-width="0.3">SWI/SNF</text>
<text x="92.0" y="511.8" font-size="8.1" text-anchor="start" font-weight="bold" fill="#000" textLength="47.4" lengthAdjust="spacingAndGlyphs" stroke="#000" stroke-width="0.3">Ubiquitination</text>
<text x="102.0" y="521.3" font-size="8.1" text-anchor="start" font-weight="bold" fill="#000" textLength="29.3" lengthAdjust="spacingAndGlyphs" stroke="#000" stroke-width="0.3">pathways</text>
<text x="95.6" y="415.8" font-size="8.1" text-anchor="start" font-weight="bold" fill="#000" textLength="17.8" lengthAdjust="spacingAndGlyphs" stroke="#000" stroke-width="0.3">Other</text>
<path d="M463.50,375.60A73.6,73.6 0 0 1 525.23,489.29L515.33,482.86A61.8,61.8 0 0 0 463.50,387.40Z" fill="#e8760c" stroke="#fff" stroke-width="0.9" stroke-linejoin="round"/>
<path d="M525.23,489.29A73.6,73.6 0 0 1 431.58,515.52L436.70,504.89A61.8,61.8 0 0 0 515.33,482.86Z" fill="#e8760c" stroke="#fff" stroke-width="0.9" stroke-linejoin="round"/>
<path d="M431.58,515.52A73.6,73.6 0 0 1 405.98,495.12L415.20,487.76A61.8,61.8 0 0 0 436.70,504.89Z" fill="#b2b2b2" stroke="#fff" stroke-width="0.9" stroke-linejoin="round"/>
<path d="M405.98,495.12A73.6,73.6 0 0 1 391.76,465.63L403.26,463.00A61.8,61.8 0 0 0 415.20,487.76Z" fill="#c8c8c8" stroke="#fff" stroke-width="0.9" stroke-linejoin="round"/>
<path d="M391.76,465.63A73.6,73.6 0 0 1 391.76,432.77L403.26,435.40A61.8,61.8 0 0 0 403.26,463.00Z" fill="#c8c8c8" stroke="#fff" stroke-width="0.9" stroke-linejoin="round"/>
<path d="M391.76,432.77A73.6,73.6 0 0 1 405.98,403.28L415.20,410.64A61.8,61.8 0 0 0 403.26,435.40Z" fill="#dbdbdb" stroke="#fff" stroke-width="0.9" stroke-linejoin="round"/>
<path d="M405.98,403.28A73.6,73.6 0 0 1 431.58,382.88L436.70,393.51A61.8,61.8 0 0 0 415.20,410.64Z" fill="#dbdbdb" stroke="#fff" stroke-width="0.9" stroke-linejoin="round"/>
<path d="M431.58,382.88A73.6,73.6 0 0 1 463.50,375.60L463.50,387.40A61.8,61.8 0 0 0 436.70,393.51Z" fill="#dbdbdb" stroke="#fff" stroke-width="0.9" stroke-linejoin="round"/>
<path d="M463.50,390.20A59,59 0 0 1 512.98,481.33L489.92,466.36A31.5,31.5 0 0 0 463.50,417.70Z" fill="#e8760c" stroke="#fff" stroke-width="0.9" stroke-linejoin="round"/>
<path d="M512.98,481.33A59,59 0 0 1 437.91,502.36L449.84,477.58A31.5,31.5 0 0 0 489.92,466.36Z" fill="#e8760c" stroke="#fff" stroke-width="0.9" stroke-linejoin="round"/>
<path d="M437.91,502.36A59,59 0 0 1 417.39,486.01L438.88,468.85A31.5,31.5 0 0 0 449.84,477.58Z" fill="#a6a6a6" stroke="#fff" stroke-width="0.9" stroke-linejoin="round"/>
<path d="M417.39,486.01A59,59 0 0 1 405.99,462.37L432.80,456.23A31.5,31.5 0 0 0 438.88,468.85Z" fill="#c4c4c4" stroke="#fff" stroke-width="0.9" stroke-linejoin="round"/>
<path d="M405.99,462.37A59,59 0 0 1 405.99,436.03L432.80,442.17A31.5,31.5 0 0 0 432.80,456.23Z" fill="#c4c4c4" stroke="#fff" stroke-width="0.9" stroke-linejoin="round"/>
<path d="M405.99,436.03A59,59 0 0 1 417.39,412.39L438.88,429.55A31.5,31.5 0 0 0 432.80,442.17Z" fill="#d9d9d9" stroke="#fff" stroke-width="0.9" stroke-linejoin="round"/>
<path d="M417.39,412.39A59,59 0 0 1 437.91,396.04L449.84,420.82A31.5,31.5 0 0 0 438.88,429.55Z" fill="#d9d9d9" stroke="#fff" stroke-width="0.9" stroke-linejoin="round"/>
<path d="M437.91,396.04A59,59 0 0 1 463.50,390.20L463.50,417.70A31.5,31.5 0 0 0 449.84,420.82Z" fill="#d9d9d9" stroke="#fff" stroke-width="0.9" stroke-linejoin="round"/>
<text x="463.4" y="441.1" font-size="7.2" text-anchor="middle" font-weight="normal" fill="#000" textLength="33.5" lengthAdjust="spacingAndGlyphs" stroke="#000" stroke-width="0.15">Epigenetic</text>
<text x="463.4" y="450.7" font-size="7.2" text-anchor="middle" font-weight="normal" fill="#000" textLength="43.4" lengthAdjust="spacingAndGlyphs" stroke="#000" stroke-width="0.15">Probe Library</text>
<text x="463.4" y="460.4" font-size="7.2" text-anchor="middle" font-weight="normal" fill="#000" textLength="21.5" lengthAdjust="spacingAndGlyphs" stroke="#000" stroke-width="0.15">Screen</text>
<text x="469.8" y="406.1" font-size="6.2" text-anchor="start" font-weight="normal" fill="#0d0d0d" textLength="13.8" lengthAdjust="spacingAndGlyphs" stroke="#0d0d0d" stroke-width="0.12">PFI-4</text>
<text x="484.6" y="415.7" font-size="6.2" text-anchor="start" font-weight="normal" fill="#0d0d0d" textLength="12.8" lengthAdjust="spacingAndGlyphs" stroke="#0d0d0d" stroke-width="0.12">OF-1</text>
<text x="490.7" y="428.6" font-size="6.2" text-anchor="start" font-weight="normal" fill="#0d0d0d" textLength="25.0" lengthAdjust="spacingAndGlyphs" stroke="#0d0d0d" stroke-width="0.12">GSK6853</text>
<text x="494.2" y="443.7" font-size="6.2" text-anchor="start" font-weight="normal" fill="#0d0d0d" textLength="24.1" lengthAdjust="spacingAndGlyphs" stroke="#0d0d0d" stroke-width="0.12">TRIM24/</text>
<text x="504.5" y="452.3" font-size="6.2" text-anchor="start" font-weight="normal" fill="#0d0d0d" textLength="17.7" lengthAdjust="spacingAndGlyphs" stroke="#0d0d0d" stroke-width="0.12">BRPF1</text>
<text x="494.9" y="467.1" font-size="6.2" text-anchor="start" font-weight="normal" fill="#0d0d0d" textLength="24.1" lengthAdjust="spacingAndGlyphs" stroke="#0d0d0d" stroke-width="0.12">GSK8814</text>
<text x="485.2" y="482.2" font-size="6.2" text-anchor="start" font-weight="normal" fill="#0d0d0d" textLength="16.1" lengthAdjust="spacingAndGlyphs" stroke="#0d0d0d" stroke-width="0.12">C-646</text>
<text x="466.6" y="490.9" font-size="6.2" text-anchor="start" font-weight="normal" fill="#0d0d0d" textLength="28.3" lengthAdjust="spacingAndGlyphs" stroke="#0d0d0d" stroke-width="0.12">CBP/BRD4</text>
<text x="446.1" y="498.6" font-size="6.2" text-anchor="start" font-weight="normal" fill="#0d0d0d" textLength="31.1" lengthAdjust="spacingAndGlyphs" stroke="#0d0d0d" stroke-width="0.12">SGC-CBP30</text>
<text x="426.5" y="488.0" font-size="6.2" text-anchor="start" font-weight="normal" fill="#0d0d0d" textLength="16.4" lengthAdjust="spacingAndGlyphs" stroke="#0d0d0d" stroke-width="0.12">A-485</text>
<text x="414.0" y="470.3" font-size="6.2" text-anchor="start" font-weight="normal" fill="#0d0d0d" textLength="15.7" lengthAdjust="spacingAndGlyphs" stroke="#0d0d0d" stroke-width="0.12">AGK2</text>
<text x="407.2" y="451.7" font-size="6.2" text-anchor="start" font-weight="normal" fill="#0d0d0d" textLength="23.4" lengthAdjust="spacingAndGlyphs" stroke="#0d0d0d" stroke-width="0.12">SRT1720</text>
<text x="413.0" y="431.5" font-size="6.2" text-anchor="start" font-weight="normal" fill="#0d0d0d" textLength="21.5" lengthAdjust="spacingAndGlyphs" stroke="#0d0d0d" stroke-width="0.12">LLY-507</text>
<text x="424.2" y="414.8" font-size="6.2" text-anchor="start" font-weight="normal" fill="#0d0d0d" textLength="21.9" lengthAdjust="spacingAndGlyphs" stroke="#0d0d0d" stroke-width="0.12">GSK864</text>
<text x="442.9" y="404.5" font-size="6.2" text-anchor="start" font-weight="normal" fill="#0d0d0d" textLength="19.9" lengthAdjust="spacingAndGlyphs" stroke="#0d0d0d" stroke-width="0.12">GSK343</text>
<text transform="translate(447.3,383.3) rotate(-13)" y="1.9" font-size="5.4" text-anchor="middle" fill="#0d0d0d" stroke="#0d0d0d" stroke-width="0.2" textLength="11.5" lengthAdjust="spacingAndGlyphs">EZH2</text>
<text transform="translate(423.3,394.5) rotate(-39)" y="1.9" font-size="5.4" text-anchor="middle" fill="#0d0d0d" stroke="#0d0d0d" stroke-width="0.2" textLength="11" lengthAdjust="spacingAndGlyphs">IDH1</text>
<text transform="translate(404.5,419.0) rotate(-64)" y="1.9" font-size="5.4" text-anchor="middle" fill="#0d0d0d" stroke="#0d0d0d" stroke-width="0.2" textLength="15.5" lengthAdjust="spacingAndGlyphs">SMYD2</text>
<text transform="translate(394.9,449.3) rotate(90)" y="1.9" font-size="5.4" text-anchor="middle" fill="#0d0d0d" stroke="#0d0d0d" stroke-width="0.2" textLength="13" lengthAdjust="spacingAndGlyphs">SIRT1</text>
<text transform="translate(400.0,475.8) rotate(64)" y="1.9" font-size="5.4" text-anchor="middle" fill="#0d0d0d" stroke="#0d0d0d" stroke-width="0.2" textLength="13" lengthAdjust="spacingAndGlyphs">SIRT2</text>
<text transform="translate(420.4,502.4) rotate(35)" y="1.9" font-size="5.8" text-anchor="middle" fill="#0d0d0d" stroke="#0d0d0d" stroke-width="0.2" textLength="23" lengthAdjust="spacingAndGlyphs">P300/CBP</text>
<text transform="translate(486.2,514.3) rotate(-17)" y="1.9" font-size="6.4" text-anchor="middle" fill="#0d0d0d" stroke="#0d0d0d" stroke-width="0.2" textLength="26" lengthAdjust="spacingAndGlyphs">P300/CBP</text>
<text transform="translate(527.0,422.0) rotate(67)" y="1.9" font-size="6.2" text-anchor="middle" fill="#0d0d0d" stroke="#0d0d0d" stroke-width="0.2" textLength="16.5" lengthAdjust="spacingAndGlyphs">BRPF1</text>
<text x="398.5" y="384.9" font-size="8.1" text-anchor="start" font-weight="bold" fill="#000" textLength="19.3" lengthAdjust="spacingAndGlyphs" stroke="#000" stroke-width="0.3">Other</text>
<text x="363.9" y="454.9" font-size="8.1" text-anchor="start" font-weight="bold" fill="#000" textLength="13.8" lengthAdjust="spacingAndGlyphs" stroke="#000" stroke-width="0.3">SIRT</text>
<text x="354.0" y="463.9" font-size="8.1" text-anchor="start" font-weight="bold" fill="#000" textLength="32.5" lengthAdjust="spacingAndGlyphs" stroke="#000" stroke-width="0.3">Activator/</text>
<text x="356.5" y="473.2" font-size="8.1" text-anchor="start" font-weight="bold" fill="#000" textLength="28.0" lengthAdjust="spacingAndGlyphs" stroke="#000" stroke-width="0.3">Inhibitor</text>
<text x="402.7" y="515.0" font-size="8.1" text-anchor="start" font-weight="bold" fill="#000" textLength="12.5" lengthAdjust="spacingAndGlyphs" stroke="#000" stroke-width="0.3">HAT</text>
<text x="540.5" y="452.2" font-size="8.1" text-anchor="start" font-weight="bold" fill="#e8760c" textLength="51.0" lengthAdjust="spacingAndGlyphs" stroke="#e8760c" stroke-width="0.3">Bromodomain</text>
</svg>
</div>
</body></html>
